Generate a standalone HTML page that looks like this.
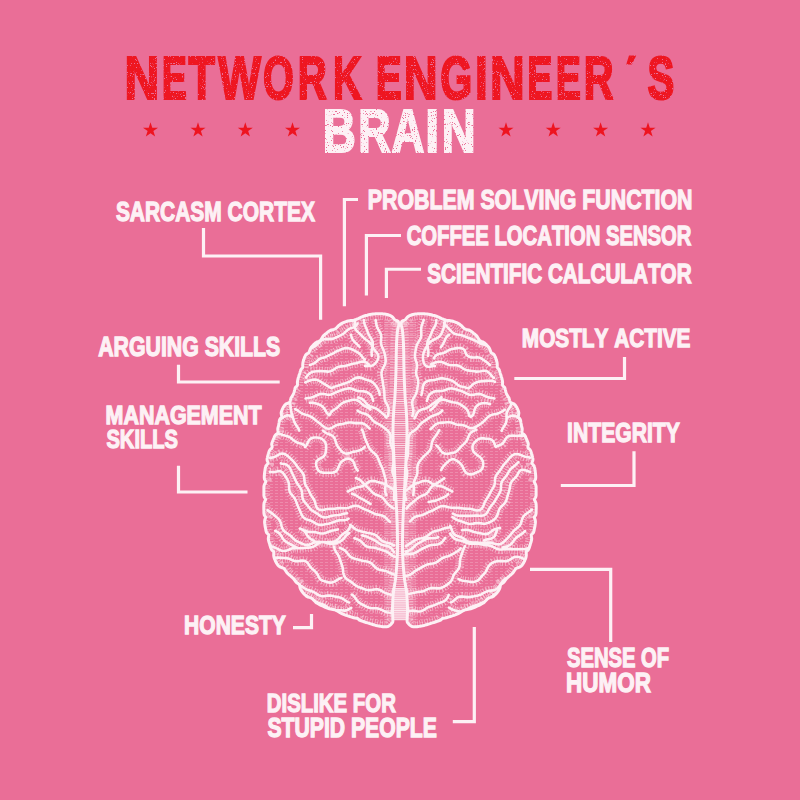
<!DOCTYPE html>
<html><head><meta charset="utf-8"><style>
html,body{margin:0;padding:0;background:#EA6E97;width:800px;height:800px;overflow:hidden}
svg{display:block}
text{font-family:"Liberation Sans",sans-serif;font-weight:bold;font-kerning:none;font-variant-ligatures:none}
.r{fill:#EE1420}
.rt{fill:#EE1420;stroke:#EE1420;stroke-linejoin:miter}
.wt{fill:#FDF1F5;stroke:#FDF1F5;stroke-linejoin:miter}
.w{fill:#FDF1F5}
.ln{fill:none;stroke:#FDF1F5;stroke-width:3.2;stroke-linecap:butt;stroke-linejoin:miter}
</style></head><body>
<svg width="800" height="800" viewBox="0 0 800 800">
<rect width="800" height="800" fill="#EA6E97"/>
<defs><filter id="dist" x="0" y="0" width="800" height="200" filterUnits="userSpaceOnUse"><feTurbulence type="fractalNoise" baseFrequency="0.9" numOctaves="2" seed="7" result="n"/><feColorMatrix in="n" type="matrix" values="0 0 0 0 0  0 0 0 0 0  0 0 0 0 0  0 0 0 -14 10.1" result="m"/><feComposite in="SourceGraphic" in2="m" operator="in"/></filter></defs>
<g filter="url(#dist)">
<text class="rt" transform="translate(124.39 98.80) scale(0.7806 1)" font-size="61.63" stroke-width="2.20">N</text>
<text class="rt" transform="translate(161.65 98.80) scale(0.6118 1)" font-size="61.63" stroke-width="2.20">E</text>
<text class="rt" transform="translate(188.54 98.80) scale(0.7015 1)" font-size="61.63" stroke-width="2.20">T</text>
<text class="rt" transform="translate(218.26 98.80) scale(0.7345 1)" font-size="61.63" stroke-width="2.20">W</text>
<text class="rt" transform="translate(263.08 98.80) scale(0.6441 1)" font-size="61.63" stroke-width="2.20">O</text>
<text class="rt" transform="translate(297.77 98.80) scale(0.6534 1)" font-size="61.63" stroke-width="2.20">R</text>
<text class="rt" transform="translate(333.06 98.80) scale(0.6427 1)" font-size="61.63" stroke-width="2.20">K</text>
<text class="rt" transform="translate(375.84 98.80) scale(0.6322 1)" font-size="61.63" stroke-width="2.20">E</text>
<text class="rt" transform="translate(403.70 98.80) scale(0.7611 1)" font-size="61.63" stroke-width="2.20">N</text>
<text class="rt" transform="translate(440.30 98.80) scale(0.6680 1)" font-size="61.63" stroke-width="2.20">G</text>
<text class="rt" transform="translate(475.00 98.80) scale(0.7448 1)" font-size="61.63" stroke-width="2.20">I</text>
<text class="rt" transform="translate(489.89 98.80) scale(0.7806 1)" font-size="61.63" stroke-width="2.20">N</text>
<text class="rt" transform="translate(527.15 98.80) scale(0.6118 1)" font-size="61.63" stroke-width="2.20">E</text>
<text class="rt" transform="translate(555.65 98.80) scale(0.6118 1)" font-size="61.63" stroke-width="2.20">E</text>
<text class="rt" transform="translate(583.72 98.80) scale(0.6716 1)" font-size="61.63" stroke-width="2.20">R</text>
<text class="rt" transform="translate(647.56 98.80) scale(0.6518 1)" font-size="61.63" stroke-width="2.20">S</text>
<polygon class="r" points="629,55.6 636.2,55.6 631.8,64.6 626.2,64.6"/>
<text class="wt" transform="translate(322.76 152.10) scale(0.7415 1)" font-size="61.63" stroke-width="2.20">B</text>
<text class="wt" transform="translate(358.31 152.10) scale(0.7260 1)" font-size="61.63" stroke-width="2.20">R</text>
<text class="wt" transform="translate(391.38 152.10) scale(0.7360 1)" font-size="61.63" stroke-width="2.20">A</text>
<text class="wt" transform="translate(425.24 152.10) scale(0.8125 1)" font-size="61.63" stroke-width="2.20">I</text>
<text class="wt" transform="translate(441.70 152.10) scale(0.7611 1)" font-size="61.63" stroke-width="2.20">N</text>
</g>
<g class="r"><polygon points="150.50,122.25 152.27,127.70 158.01,127.70 153.37,131.08 155.14,136.54 150.50,133.16 145.86,136.54 147.63,131.08 142.99,127.70 148.73,127.70"/>
<polygon points="198.00,122.25 199.77,127.70 205.51,127.70 200.87,131.08 202.64,136.54 198.00,133.16 193.36,136.54 195.13,131.08 190.49,127.70 196.23,127.70"/>
<polygon points="245.30,122.25 247.07,127.70 252.81,127.70 248.17,131.08 249.94,136.54 245.30,133.16 240.66,136.54 242.43,131.08 237.79,127.70 243.53,127.70"/>
<polygon points="292.50,122.25 294.27,127.70 300.01,127.70 295.37,131.08 297.14,136.54 292.50,133.16 287.86,136.54 289.63,131.08 284.99,127.70 290.73,127.70"/>
<polygon points="506.00,122.25 507.77,127.70 513.51,127.70 508.87,131.08 510.64,136.54 506.00,133.16 501.36,136.54 503.13,131.08 498.49,127.70 504.23,127.70"/>
<polygon points="553.20,122.25 554.97,127.70 560.71,127.70 556.07,131.08 557.84,136.54 553.20,133.16 548.56,136.54 550.33,131.08 545.69,127.70 551.43,127.70"/>
<polygon points="600.60,122.25 602.37,127.70 608.11,127.70 603.47,131.08 605.24,136.54 600.60,133.16 595.96,136.54 597.73,131.08 593.09,127.70 598.83,127.70"/>
<polygon points="648.00,122.25 649.77,127.70 655.51,127.70 650.87,131.08 652.64,136.54 648.00,133.16 643.36,136.54 645.13,131.08 640.49,127.70 646.23,127.70"/></g>
<text class="wt" transform="translate(115.88 220.60) scale(0.7450 1)" font-size="28.13" stroke-width="1.30">SARCASM CORTEX</text>
<text class="wt" transform="translate(367.81 208.60) scale(0.7551 1)" font-size="28.27" stroke-width="1.30">PROBLEM SOLVING FUNCTION</text>
<text class="wt" transform="translate(406.64 245.35) scale(0.7268 1)" font-size="27.91" stroke-width="1.30">COFFEE LOCATION SENSOR</text>
<text class="wt" transform="translate(427.14 282.85) scale(0.7518 1)" font-size="27.54" stroke-width="1.30">SCIENTIFIC CALCULATOR</text>
<text class="wt" transform="translate(98.22 355.85) scale(0.7728 1)" font-size="27.54" stroke-width="1.30">ARGUING SKILLS</text>
<text class="wt" transform="translate(105.59 424.10) scale(0.8109 1)" font-size="26.45" stroke-width="1.30">MANAGEMENT</text>
<text class="wt" transform="translate(106.41 447.85) scale(0.7615 1)" font-size="26.45" stroke-width="1.30">SKILLS</text>
<text class="wt" transform="translate(521.82 347.10) scale(0.7863 1)" font-size="26.45" stroke-width="1.30">MOSTLY ACTIVE</text>
<text class="wt" transform="translate(567.09 441.95) scale(0.7696 1)" font-size="27.47" stroke-width="1.30">INTEGRITY</text>
<text class="wt" transform="translate(184.11 634.35) scale(0.7997 1)" font-size="26.31" stroke-width="1.30">HONESTY</text>
<text class="wt" transform="translate(566.90 667.35) scale(0.7447 1)" font-size="27.18" stroke-width="1.30">SENSE OF</text>
<text class="wt" transform="translate(566.03 692.35) scale(0.8268 1)" font-size="27.18" stroke-width="1.30">HUMOR</text>
<text class="wt" transform="translate(266.74 712.35) scale(0.7710 1)" font-size="26.45" stroke-width="1.30">DISLIKE FOR</text>
<text class="wt" transform="translate(267.49 736.95) scale(0.7744 1)" font-size="27.33" stroke-width="1.30">STUPID PEOPLE</text>
<g class="ln">
<path d="M203.5 228V256H320.6V319.75"/>
<path d="M358 199.5H344.4V306.25"/>
<path d="M401 235.5H366.4V295.6"/>
<path d="M421 269.25H386.4V298"/>
<path d="M178.5 364.75V382H279.7"/>
<path d="M178.5 465.75V492H247.5"/>
<path d="M514.3 378.5H624.5V357"/>
<path d="M560.8 485.5H634V451.25"/>
<path d="M530 569.3H610.7V642"/>
<path d="M293 627.7H311.5V614"/>
<path d="M452.8 721.6H474.3V627"/>
</g>
<g id="brain">
<defs><pattern id="hp" width="5" height="3" patternUnits="userSpaceOnUse"><rect x="0" y="1" width="3" height="0.9" fill="#fff"/></pattern>
<pattern id="mp" width="4" height="2.2" patternUnits="userSpaceOnUse"><rect x="0" y="0.6" width="4" height="1.1" fill="#fff"/></pattern>
<clipPath id="bc"><path d="M398.9 323.5 L398.9 323.3 L398.8 323.0 L398.7 322.7 L398.6 322.3 L398.5 322.0 L398.3 321.7 L398.1 321.4 L397.8 321.1 L397.4 320.9 L397.0 320.7 L396.5 320.6 L396.0 320.4 L395.4 320.2 L394.9 319.8 L394.3 319.2 L393.7 318.5 L393.1 317.8 L392.5 317.1 L391.8 316.4 L391.0 315.9 L390.1 315.5 L389.1 315.1 L388.1 314.8 L387.0 314.5 L385.8 314.3 L384.7 314.1 L383.4 313.9 L382.2 313.8 L380.9 313.7 L379.7 313.7 L378.4 313.7 L377.1 313.8 L375.7 313.8 L374.3 314.0 L372.9 314.1 L371.5 314.3 L370.1 314.5 L368.7 314.8 L367.2 315.2 L365.8 315.5 L364.3 316.0 L362.8 316.5 L361.3 317.2 L359.8 317.9 L358.3 318.6 L356.8 319.2 L355.3 319.8 L353.8 320.2 L352.4 320.5 L351.0 320.6 L349.6 320.8 L348.2 321.0 L346.8 321.3 L345.4 321.8 L344.1 322.3 L342.8 322.9 L341.5 323.6 L340.2 324.4 L338.9 325.4 L337.7 326.6 L336.5 327.8 L335.3 328.8 L334.0 329.4 L332.7 329.7 L331.4 330.0 L330.2 330.5 L328.9 331.3 L327.7 332.2 L326.5 333.2 L325.2 334.2 L323.9 335.3 L322.7 336.8 L321.5 338.7 L320.3 340.6 L318.8 341.4 L317.2 341.9 L315.8 342.7 L314.5 343.8 L313.4 344.9 L312.4 346.0 L311.5 347.0 L310.7 348.1 L310.1 349.4 L309.6 350.8 L309.2 352.0 L308.6 352.9 L308.0 353.4 L307.3 353.7 L306.6 354.0 L306.0 354.6 L305.6 355.2 L305.2 356.0 L304.8 356.7 L304.5 357.4 L304.3 358.2 L304.0 358.9 L303.8 359.6 L303.5 360.4 L303.3 361.1 L303.1 361.9 L302.9 362.9 L302.8 364.0 L302.7 365.3 L302.8 366.7 L302.6 367.7 L302.2 368.3 L301.7 368.6 L301.3 369.0 L300.9 369.7 L300.6 370.4 L300.4 371.2 L300.1 372.0 L299.9 372.8 L299.7 373.5 L299.4 374.3 L299.2 375.1 L298.9 375.9 L298.7 376.7 L298.4 377.5 L298.2 378.3 L297.9 379.2 L297.7 380.2 L297.5 381.2 L297.4 382.6 L297.5 384.0 L297.4 385.3 L297.0 386.0 L296.4 386.5 L295.8 386.9 L295.4 387.4 L295.1 388.1 L294.9 388.8 L294.7 389.6 L294.5 390.3 L294.4 391.0 L294.2 391.7 L294.0 392.3 L293.8 393.0 L293.6 393.6 L293.3 394.2 L293.0 394.8 L292.7 395.4 L292.3 396.0 L292.0 396.6 L291.6 397.1 L291.2 397.7 L290.9 398.4 L290.7 399.1 L290.5 399.8 L290.3 400.6 L290.1 401.3 L289.8 401.9 L289.4 402.4 L288.8 402.8 L288.2 403.1 L287.5 403.3 L286.8 403.6 L286.2 403.9 L285.6 404.2 L285.1 404.7 L284.7 405.2 L284.3 405.8 L283.9 406.4 L283.5 407.0 L283.2 407.6 L282.8 408.3 L282.5 408.9 L282.2 409.6 L281.9 410.3 L281.6 411.0 L281.4 411.8 L281.2 412.6 L281.2 413.5 L281.4 414.6 L281.6 415.7 L281.8 416.7 L281.6 417.5 L281.0 418.0 L280.4 418.5 L279.9 419.1 L279.6 419.8 L279.4 420.5 L279.3 421.3 L279.2 422.0 L279.1 422.8 L278.9 423.6 L278.8 424.4 L278.7 425.2 L278.5 426.0 L278.3 426.8 L278.0 427.7 L277.8 428.6 L277.8 429.6 L277.9 430.7 L278.1 431.8 L278.0 432.8 L277.3 433.6 L276.4 434.2 L275.6 434.9 L275.0 435.7 L274.5 436.6 L274.1 437.6 L273.7 438.5 L273.3 439.5 L272.9 440.5 L272.5 441.5 L272.1 442.5 L271.8 443.5 L271.7 444.6 L272.0 445.8 L272.2 446.9 L271.9 447.9 L271.1 448.7 L270.1 449.6 L269.5 450.5 L269.1 451.4 L268.8 452.4 L268.5 453.4 L268.2 454.3 L268.0 455.3 L267.7 456.2 L267.5 457.1 L267.3 458.0 L267.1 458.8 L267.1 459.7 L267.2 460.6 L267.6 461.5 L268.0 462.4 L268.0 463.3 L267.4 464.2 L266.6 465.1 L265.9 466.0 L265.6 467.0 L265.3 467.9 L265.2 468.9 L265.0 469.9 L264.9 470.9 L264.7 471.9 L264.6 472.9 L264.5 473.9 L264.4 475.0 L264.3 476.0 L264.3 477.1 L264.3 478.1 L264.5 479.2 L265.1 480.2 L265.7 481.2 L265.7 482.3 L265.0 483.5 L264.4 484.7 L264.0 485.9 L263.9 487.0 L263.9 488.2 L263.9 489.3 L263.9 490.5 L263.9 491.7 L263.9 492.9 L263.9 494.1 L263.9 495.3 L264.1 496.5 L264.5 497.6 L265.3 498.6 L265.6 499.8 L264.8 501.3 L264.1 502.9 L263.9 504.3 L263.8 505.6 L263.8 506.9 L263.8 508.1 L263.8 509.3 L263.9 510.5 L263.9 511.6 L263.9 512.7 L264.0 513.8 L264.2 514.8 L264.6 515.6 L265.3 516.3 L265.7 517.2 L265.4 518.4 L264.8 519.9 L264.6 521.2 L264.6 522.4 L264.7 523.5 L264.9 524.7 L265.0 525.8 L265.2 526.9 L265.5 528.1 L265.7 529.2 L265.9 530.4 L266.2 531.6 L266.6 532.7 L267.4 533.5 L268.4 534.3 L268.8 535.4 L268.5 537.1 L268.3 538.8 L268.5 540.2 L268.8 541.5 L269.2 542.7 L269.6 543.9 L269.9 545.2 L270.3 546.4 L270.7 547.7 L271.2 548.9 L271.8 550.0 L272.7 550.7 L273.6 551.4 L273.8 552.7 L273.7 554.2 L273.7 555.6 L273.9 556.7 L274.1 557.6 L274.4 558.3 L274.6 559.1 L274.9 559.7 L275.2 560.4 L275.4 561.0 L275.7 561.6 L276.0 562.2 L276.4 562.8 L276.8 563.4 L277.1 564.0 L277.5 564.5 L277.9 565.1 L278.4 565.6 L278.8 566.1 L279.4 566.5 L280.0 566.9 L280.6 567.2 L281.4 567.5 L282.2 567.7 L283.0 568.0 L283.8 568.4 L284.4 569.0 L285.0 569.7 L285.5 570.6 L286.1 571.4 L286.6 572.2 L287.2 572.9 L287.8 573.6 L288.4 574.2 L289.0 574.7 L289.7 575.2 L290.3 575.7 L290.9 576.3 L291.5 576.8 L292.1 577.3 L292.7 577.9 L293.3 578.5 L293.9 579.1 L294.4 579.8 L295.0 580.6 L295.5 581.4 L296.1 582.1 L296.7 582.8 L297.4 583.2 L298.1 583.6 L298.8 584.0 L299.3 584.8 L299.7 585.8 L299.9 587.0 L300.2 588.1 L300.6 589.1 L301.0 589.9 L301.4 590.6 L301.9 591.3 L302.4 592.0 L303.0 592.7 L303.6 593.4 L304.2 594.1 L304.9 594.8 L305.7 595.4 L306.4 596.1 L307.3 596.6 L308.2 597.1 L309.2 597.4 L310.2 597.6 L311.3 598.0 L312.3 598.7 L313.3 599.7 L314.3 600.8 L315.5 602.0 L316.7 603.0 L318.1 603.8 L319.6 604.6 L321.0 605.3 L322.5 606.0 L324.0 606.7 L325.4 607.4 L326.7 607.9 L328.0 608.4 L329.3 608.8 L330.6 609.1 L331.8 609.3 L333.1 609.5 L334.3 609.7 L335.5 610.1 L336.6 610.6 L337.8 611.2 L339.0 612.0 L340.1 612.7 L341.3 613.3 L342.4 613.9 L343.6 614.4 L344.8 614.9 L346.0 615.3 L347.2 615.7 L348.4 616.1 L349.7 616.5 L350.9 616.9 L352.3 617.3 L353.6 617.7 L355.0 618.0 L356.4 618.2 L357.7 618.4 L359.2 620.0 L360.6 620.5 L362.0 621.1 L363.4 621.5 L364.8 622.0 L366.2 622.5 L367.7 622.9 L369.1 623.4 L370.6 623.9 L372.1 624.3 L373.5 624.7 L374.9 625.1 L376.2 625.5 L377.5 625.8 L378.7 626.0 L379.8 626.2 L380.8 626.4 L381.8 626.6 L382.8 626.7 L383.7 626.8 L384.6 626.8 L385.4 626.8 L386.2 626.8 L386.9 626.7 L387.6 626.6 L388.3 626.3 L388.9 626.0 L389.5 625.6 L390.1 625.1 L390.6 624.6 L391.1 624.1 L391.6 623.6 L391.9 623.2 L392.3 622.8 L392.6 622.6 L392.9 620.9 L392.8 618.8 L392.7 616.2 L392.6 613.5 L392.5 610.7 L392.5 608.0 L392.6 605.4 L392.7 602.8 L392.8 600.2 L393.0 597.5 L393.2 594.7 L393.5 592.0 L393.8 589.3 L394.3 586.7 L394.7 584.1 L395.2 581.3 L395.6 578.3 L396.0 575.0 L396.3 571.4 L396.6 567.4 L396.9 563.3 L397.2 559.0 L397.4 554.5 L397.5 550.0 L397.5 545.3 L397.5 540.4 L397.4 535.3 L397.3 530.2 L397.2 525.1 L397.0 520.0 L396.8 515.0 L396.6 510.0 L396.3 505.0 L396.0 500.0 L395.8 495.0 L395.5 490.0 L395.2 484.9 L395.0 479.8 L394.7 474.7 L394.5 469.6 L394.2 464.7 L394.0 460.0 L393.8 455.5 L393.6 451.1 L393.4 446.9 L393.2 442.8 L393.1 438.8 L393.0 435.0 L393.0 431.4 L393.0 428.0 L393.1 424.7 L393.2 421.5 L393.3 418.3 L393.5 415.0 L393.7 411.7 L393.9 408.5 L394.2 405.3 L394.5 402.0 L394.8 398.6 L395.0 395.0 L395.2 391.1 L395.4 387.0 L395.6 382.8 L395.7 378.5 L395.9 374.2 L396.0 370.0 L396.1 365.7 L396.2 361.3 L396.2 356.8 L396.3 352.5 L396.4 348.5 L396.5 345.0 L396.6 342.0 L396.8 339.3 L396.9 337.0 L397.1 334.9 L397.3 332.9 L397.5 331.0 L397.8 329.2 L398.2 327.4 L398.6 325.9 L398.9 324.5 L399.3 323.4Z"/><path d="M401.1 323.5 L401.1 323.3 L401.2 323.0 L401.3 322.7 L401.4 322.3 L401.5 322.0 L401.7 321.7 L401.9 321.4 L402.2 321.1 L402.6 320.9 L403.0 320.7 L403.5 320.6 L404.0 320.4 L404.6 320.2 L405.1 319.8 L405.7 319.2 L406.3 318.5 L406.9 317.8 L407.5 317.1 L408.2 316.4 L409.0 315.9 L409.9 315.5 L410.9 315.1 L411.9 314.8 L413.0 314.5 L414.2 314.3 L415.3 314.1 L416.6 313.9 L417.8 313.8 L419.1 313.7 L420.3 313.7 L421.6 313.7 L422.9 313.8 L424.3 313.8 L425.7 314.0 L427.1 314.1 L428.5 314.3 L429.9 314.5 L431.3 314.8 L432.8 315.2 L434.2 315.5 L435.7 316.0 L437.2 316.5 L438.7 317.2 L440.2 317.9 L441.7 318.6 L443.2 319.2 L444.7 319.8 L446.2 320.2 L447.6 320.5 L449.0 320.6 L450.4 320.8 L451.8 321.0 L453.2 321.3 L454.6 321.8 L455.9 322.3 L457.2 322.9 L458.5 323.6 L459.8 324.4 L461.1 325.4 L462.3 326.6 L463.5 327.8 L464.7 328.8 L466.0 329.4 L467.3 329.7 L468.6 330.0 L469.8 330.5 L471.1 331.3 L472.3 332.2 L473.5 333.2 L474.8 334.2 L476.1 335.3 L477.3 336.8 L478.5 338.7 L479.7 340.6 L481.2 341.4 L482.8 341.9 L484.2 342.7 L485.5 343.8 L486.6 344.9 L487.6 346.0 L488.5 347.0 L489.3 348.1 L489.9 349.4 L490.4 350.8 L490.8 352.0 L491.4 352.9 L492.0 353.4 L492.7 353.7 L493.4 354.0 L494.0 354.6 L494.4 355.2 L494.8 356.0 L495.2 356.7 L495.5 357.4 L495.7 358.2 L496.0 358.9 L496.2 359.6 L496.5 360.4 L496.7 361.1 L496.9 361.9 L497.1 362.9 L497.2 364.0 L497.3 365.3 L497.2 366.7 L497.4 367.7 L497.8 368.3 L498.3 368.6 L498.7 369.0 L499.1 369.7 L499.4 370.4 L499.6 371.2 L499.9 372.0 L500.1 372.8 L500.3 373.5 L500.6 374.3 L500.8 375.1 L501.1 375.9 L501.3 376.7 L501.6 377.5 L501.8 378.3 L502.1 379.2 L502.3 380.2 L502.5 381.2 L502.6 382.6 L502.5 384.0 L502.6 385.3 L503.0 386.0 L503.6 386.5 L504.2 386.9 L504.6 387.4 L504.9 388.1 L505.1 388.8 L505.3 389.6 L505.5 390.3 L505.6 391.0 L505.8 391.7 L506.0 392.3 L506.2 393.0 L506.4 393.6 L506.7 394.2 L507.0 394.8 L507.3 395.4 L507.7 396.0 L508.0 396.6 L508.4 397.1 L508.8 397.7 L509.1 398.4 L509.3 399.1 L509.5 399.8 L509.7 400.6 L509.9 401.3 L510.2 401.9 L510.6 402.4 L511.2 402.8 L511.8 403.1 L512.5 403.3 L513.2 403.6 L513.8 403.9 L514.4 404.2 L514.9 404.7 L515.3 405.2 L515.7 405.8 L516.1 406.4 L516.5 407.0 L516.8 407.6 L517.2 408.3 L517.5 408.9 L517.8 409.6 L518.1 410.3 L518.4 411.0 L518.6 411.8 L518.8 412.6 L518.8 413.5 L518.6 414.6 L518.4 415.7 L518.2 416.7 L518.4 417.5 L519.0 418.0 L519.6 418.5 L520.1 419.1 L520.4 419.8 L520.6 420.5 L520.7 421.3 L520.8 422.0 L520.9 422.8 L521.1 423.6 L521.2 424.4 L521.3 425.2 L521.5 426.0 L521.7 426.8 L522.0 427.7 L522.2 428.6 L522.2 429.6 L522.1 430.7 L521.9 431.8 L522.0 432.8 L522.7 433.6 L523.6 434.2 L524.4 434.9 L525.0 435.7 L525.5 436.6 L525.9 437.6 L526.3 438.5 L526.7 439.5 L527.1 440.5 L527.5 441.5 L527.9 442.5 L528.2 443.5 L528.3 444.6 L528.0 445.8 L527.8 446.9 L528.1 447.9 L528.9 448.7 L529.9 449.6 L530.5 450.5 L530.9 451.4 L531.2 452.4 L531.5 453.4 L531.8 454.3 L532.0 455.3 L532.3 456.2 L532.5 457.1 L532.7 458.0 L532.9 458.8 L532.9 459.7 L532.8 460.6 L532.4 461.5 L532.0 462.4 L532.0 463.3 L532.6 464.2 L533.4 465.1 L534.1 466.0 L534.4 467.0 L534.7 467.9 L534.8 468.9 L535.0 469.9 L535.1 470.9 L535.3 471.9 L535.4 472.9 L535.5 473.9 L535.6 475.0 L535.7 476.0 L535.7 477.1 L535.7 478.1 L535.5 479.2 L534.9 480.2 L534.3 481.2 L534.3 482.3 L535.0 483.5 L535.6 484.7 L536.0 485.9 L536.1 487.0 L536.1 488.2 L536.1 489.3 L536.1 490.5 L536.1 491.7 L536.1 492.9 L536.1 494.1 L536.1 495.3 L535.9 496.5 L535.5 497.6 L534.7 498.6 L534.4 499.8 L535.2 501.3 L535.9 502.9 L536.1 504.3 L536.2 505.6 L536.2 506.9 L536.2 508.1 L536.2 509.3 L536.1 510.5 L536.1 511.6 L536.1 512.7 L536.0 513.8 L535.8 514.8 L535.4 515.6 L534.7 516.3 L534.3 517.2 L534.6 518.4 L535.2 519.9 L535.4 521.2 L535.4 522.4 L535.3 523.5 L535.1 524.7 L535.0 525.8 L534.8 526.9 L534.5 528.1 L534.3 529.2 L534.1 530.4 L533.8 531.6 L533.4 532.7 L532.6 533.5 L531.6 534.3 L531.2 535.4 L531.5 537.1 L531.7 538.8 L531.5 540.2 L531.2 541.5 L530.8 542.7 L530.4 543.9 L530.1 545.2 L529.7 546.4 L529.3 547.7 L528.8 548.9 L528.2 550.0 L527.3 550.7 L526.4 551.4 L526.2 552.7 L526.3 554.2 L526.3 555.6 L526.1 556.7 L525.9 557.6 L525.6 558.3 L525.4 559.1 L525.1 559.7 L524.8 560.4 L524.6 561.0 L524.3 561.6 L524.0 562.2 L523.6 562.8 L523.2 563.4 L522.9 564.0 L522.5 564.5 L522.1 565.1 L521.6 565.6 L521.2 566.1 L520.6 566.5 L520.0 566.9 L519.4 567.2 L518.6 567.5 L517.8 567.7 L517.0 568.0 L516.2 568.4 L515.6 569.0 L515.0 569.7 L514.5 570.6 L513.9 571.4 L513.4 572.2 L512.8 572.9 L512.2 573.6 L511.6 574.2 L511.0 574.7 L510.3 575.2 L509.7 575.7 L509.1 576.3 L508.5 576.8 L507.9 577.3 L507.3 577.9 L506.7 578.5 L506.1 579.1 L505.6 579.8 L505.0 580.6 L504.5 581.4 L503.9 582.1 L503.3 582.8 L502.6 583.2 L501.9 583.6 L501.2 584.0 L500.7 584.8 L500.3 585.8 L500.1 587.0 L499.8 588.1 L499.4 589.1 L499.0 589.9 L498.6 590.6 L498.1 591.3 L497.6 592.0 L497.0 592.7 L496.4 593.4 L495.8 594.1 L495.1 594.8 L494.3 595.4 L493.6 596.1 L492.7 596.6 L491.8 597.1 L490.8 597.4 L489.8 597.6 L488.7 598.0 L487.7 598.7 L486.7 599.7 L485.7 600.8 L484.5 602.0 L483.3 603.0 L481.9 603.8 L480.4 604.6 L479.0 605.3 L477.5 606.0 L476.0 606.7 L474.6 607.4 L473.3 607.9 L472.0 608.4 L470.7 608.8 L469.4 609.1 L468.2 609.3 L466.9 609.5 L465.7 609.7 L464.5 610.1 L463.4 610.6 L462.2 611.2 L461.0 612.0 L459.9 612.7 L458.7 613.3 L457.6 613.9 L456.4 614.4 L455.2 614.9 L454.0 615.3 L452.8 615.7 L451.6 616.1 L450.3 616.5 L449.1 616.9 L447.7 617.3 L446.4 617.7 L445.0 618.0 L443.6 618.2 L442.3 618.4 L440.8 620.0 L439.4 620.5 L438.0 621.1 L436.6 621.5 L435.2 622.0 L433.8 622.5 L432.3 622.9 L430.9 623.4 L429.4 623.9 L427.9 624.3 L426.5 624.7 L425.1 625.1 L423.8 625.5 L422.5 625.8 L421.3 626.0 L420.2 626.2 L419.2 626.4 L418.2 626.6 L417.2 626.7 L416.3 626.8 L415.4 626.8 L414.6 626.8 L413.8 626.8 L413.1 626.7 L412.4 626.6 L411.7 626.3 L411.1 626.0 L410.5 625.6 L409.9 625.1 L409.4 624.6 L408.9 624.1 L408.4 623.6 L408.1 623.2 L407.7 622.8 L407.4 622.6 L407.1 620.9 L407.2 618.8 L407.3 616.2 L407.4 613.5 L407.5 610.7 L407.5 608.0 L407.4 605.4 L407.3 602.8 L407.2 600.2 L407.0 597.5 L406.8 594.7 L406.5 592.0 L406.2 589.3 L405.7 586.7 L405.3 584.1 L404.8 581.3 L404.4 578.3 L404.0 575.0 L403.7 571.4 L403.4 567.4 L403.1 563.3 L402.8 559.0 L402.6 554.5 L402.5 550.0 L402.5 545.3 L402.5 540.4 L402.6 535.3 L402.7 530.2 L402.8 525.1 L403.0 520.0 L403.2 515.0 L403.4 510.0 L403.7 505.0 L404.0 500.0 L404.2 495.0 L404.5 490.0 L404.8 484.9 L405.0 479.8 L405.3 474.7 L405.5 469.6 L405.8 464.7 L406.0 460.0 L406.2 455.5 L406.4 451.1 L406.6 446.9 L406.8 442.8 L406.9 438.8 L407.0 435.0 L407.0 431.4 L407.0 428.0 L406.9 424.7 L406.8 421.5 L406.7 418.3 L406.5 415.0 L406.3 411.7 L406.1 408.5 L405.8 405.3 L405.5 402.0 L405.2 398.6 L405.0 395.0 L404.8 391.1 L404.6 387.0 L404.4 382.8 L404.3 378.5 L404.1 374.2 L404.0 370.0 L403.9 365.7 L403.8 361.3 L403.8 356.8 L403.7 352.5 L403.6 348.5 L403.5 345.0 L403.4 342.0 L403.2 339.3 L403.1 337.0 L402.9 334.9 L402.7 332.9 L402.5 331.0 L402.2 329.2 L401.8 327.4 L401.4 325.9 L401.1 324.5 L400.7 323.4Z"/></clipPath></defs>
<g clip-path="url(#bc)"><rect x="250" y="300" width="300" height="340" fill="url(#hp)" opacity="0.22"/></g>
<path d="M397.0 326.0 L403.0 326.0 L404.0 370.0 L405.0 395.0 L406.5 415.0 L407.0 435.0 L406.0 460.0 L404.5 490.0 L403.0 520.0 L402.5 550.0 L404.0 575.0 L406.5 592.0 L407.5 621.0 L392.5 621.0 L393.5 592.0 L396.0 575.0 L397.5 550.0 L397.0 520.0 L395.5 490.0 L394.0 460.0 L393.0 435.0 L393.5 415.0 L395.0 395.0 L396.0 370.0Z" fill="url(#mp)" opacity="0.75"/>
<g clip-path="url(#bc)"><rect x="384" y="320" width="32" height="300" fill="url(#mp)" opacity="0.3"/></g>
<path d="M392 588 L408 588 L407.5 620 L392.5 620Z" fill="#FDF1F5" opacity="0.55"/>
<g clip-path="url(#bc)" fill="none" stroke="#FDF1F5"><path d="M355.1 318.8 L355.1 320.3 L354.8 322.5 L354.5 325.2 L354.9 327.8 L356.2 330.2 L358.1 332.1 L360.1 334.0 L362.0 336.0 L363.9 337.9 L365.8 339.5 L367.5 340.8 L369.1 342.0 L370.6 343.5 L371.8 345.2 L372.7 346.9 L373.6 348.7 L375.0 350.6 L376.7 352.5 L378.0 354.5 L378.5 356.6 L378.2 358.7 L377.3 360.6 L376.2 362.3 L374.9 363.7 L373.6 364.9 L372.0 365.7 L370.1 366.0 L368.1 365.9 L366.4 365.8 L365.1 365.9 M445.2 318.8 L445.0 320.3 L444.8 322.4 L444.4 324.9 L443.8 327.4 L443.0 329.8 L442.1 332.2 L440.9 334.7 L439.0 336.9 L436.6 338.4 L434.2 339.5 L432.3 340.5 L430.6 341.6 L429.1 343.1 L427.8 344.7 L426.7 346.4 L425.7 348.3 L424.6 350.4 L423.7 352.6 L423.2 354.7 L423.0 356.6 L423.0 358.4 L423.2 360.3 L423.7 362.4 L424.5 364.3 L425.7 365.8 L427.6 366.7 L429.8 366.7 L431.8 366.3 L433.6 366.0 L434.9 366.0 M270.1 457.9 L271.6 457.7 L273.6 457.3 L275.7 456.4 L277.8 455.2 L279.7 454.1 L281.9 453.6 L284.0 453.8 L286.1 454.7 L287.9 456.1 L289.5 457.6 L291.1 459.1 L292.7 460.7 L294.3 462.5 L295.7 464.3 L297.0 466.2 L298.3 467.9 L299.7 469.5 L301.2 471.2 L302.6 473.0 L303.7 475.0 L304.2 477.4 L304.4 480.0 L304.7 482.6 L305.5 485.0 L306.8 487.2 L308.1 489.3 L309.2 491.5 L310.3 493.8 L311.5 495.9 L312.9 497.9 L314.2 500.0 L315.1 502.3 L315.7 504.8 L316.5 507.2 L318.1 509.1 L320.3 510.0 L322.9 510.0 L325.3 509.4 L327.8 509.0 L330.1 508.9 L332.4 508.9 L334.7 508.7 L337.0 508.4 L339.3 508.1 L341.5 508.1 L343.7 508.3 L345.7 508.3 L347.6 508.0 L349.4 507.4 L351.3 506.7 L353.2 506.0 L355.3 505.7 L357.3 505.9 L359.3 506.6 L361.1 507.6 L362.9 508.5 L364.8 509.4 L366.7 510.1 L368.6 510.9 L370.5 511.8 L372.4 512.7 L374.3 513.7 L376.4 514.4 L378.7 514.8 L380.9 515.2 L383.2 515.9 L385.3 517.4 L387.1 519.2 L388.7 520.8 L389.9 521.8 M530.0 457.7 L528.6 457.3 L526.5 456.9 L524.3 456.4 L522.2 455.6 L520.2 454.8 L518.2 454.2 L516.0 454.0 L513.8 454.5 L511.9 455.7 L510.3 457.2 L508.8 459.0 L507.3 460.8 L505.8 462.5 L504.2 464.3 L502.8 466.1 L501.7 467.9 L500.6 469.6 L499.3 471.4 L497.8 473.2 L496.4 475.0 L495.4 477.2 L495.0 479.7 L494.9 482.4 L494.5 485.0 L493.5 487.3 L492.2 489.4 L490.8 491.6 L489.7 493.8 L488.6 496.0 L487.3 498.0 L486.0 500.1 L484.7 502.2 L483.9 504.5 L483.0 506.7 L481.7 508.8 L479.7 510.1 L477.2 510.5 L474.7 510.0 L472.2 509.2 L469.9 508.8 L467.7 508.7 L465.3 508.6 L463.0 508.5 L460.7 508.1 L458.5 507.9 L456.4 507.9 L454.3 507.9 L452.4 507.8 L450.6 507.6 L448.7 507.2 L446.8 506.7 L444.8 506.2 L442.7 506.0 L440.7 506.3 L438.8 507.1 L436.9 508.2 L435.1 509.2 L433.3 510.2 L431.4 511.0 L429.4 511.7 L427.5 512.6 L425.6 513.6 L423.6 514.5 L421.6 515.2 L419.3 515.7 L416.9 516.2 L414.6 517.1 L412.6 518.7 L411.1 520.3 L410.0 521.4 M269.9 471.9 L271.4 472.0 L273.6 472.1 L275.8 471.8 L277.9 471.2 L279.6 471.1 L281.2 471.6 L282.8 472.8 L284.2 474.5 L285.5 476.5 L286.8 478.5 L288.0 480.8 L288.9 483.5 L289.1 486.5 L289.2 489.5 L289.9 492.2 L291.4 494.4 L293.1 496.3 L294.6 498.3 L295.7 500.4 L296.6 502.7 L297.5 505.2 L298.6 507.8 L299.8 510.3 L300.8 512.8 L301.8 515.0 L302.9 516.8 L304.3 518.2 L305.9 519.1 L307.7 519.8 L309.5 520.2 L311.3 520.8 L312.9 521.7 L314.7 522.8 L316.5 523.9 L318.7 524.7 L321.2 524.9 L323.9 524.5 L326.7 524.0 L329.4 523.5 L331.8 522.8 L333.9 522.0 L335.9 521.2 L337.8 520.6 L339.6 520.3 L341.3 520.2 L343.0 520.2 L344.8 520.1 L346.5 519.7 L347.7 519.2 L348.6 518.7 M530.1 471.8 L528.8 471.4 L526.8 470.7 L524.5 470.0 L522.2 469.8 L520.2 470.4 L518.9 471.8 L518.0 473.5 L517.1 475.4 L515.8 477.2 L514.0 478.9 L512.1 480.8 L510.7 483.3 L510.0 486.2 L509.6 489.1 L508.9 491.7 L508.1 494.2 L507.4 496.5 L506.8 498.9 L506.0 501.2 L504.6 503.3 L502.7 505.3 L500.6 507.3 L499.1 509.6 L498.3 512.2 L497.6 514.6 L496.7 516.5 L495.6 518.1 L494.3 519.4 L492.9 520.4 L491.2 521.4 L489.5 522.3 L487.6 523.1 L485.6 523.6 L483.4 523.7 L481.2 523.4 L478.9 523.1 L476.2 523.1 L473.3 523.6 L470.5 524.0 L468.1 523.8 L465.9 523.1 L463.9 522.3 L462.0 521.6 L460.3 521.1 L458.6 520.6 L457.1 520.0 L455.6 519.2 L454.3 518.4 L453.2 517.6 L452.4 517.1 M267.5 510.2 L268.8 511.1 L270.7 512.4 L272.8 514.0 L274.9 515.8 L276.9 517.4 L278.7 519.1 L280.1 521.1 L281.0 523.4 L281.5 525.8 L282.2 528.1 L283.2 530.0 L284.7 531.6 L286.4 532.8 L288.2 534.0 L289.9 535.2 L291.5 536.6 L292.9 538.1 L294.4 539.5 L296.0 540.8 L297.8 541.7 L299.7 542.6 L301.7 543.5 L304.0 544.4 L306.4 544.9 L309.0 544.7 L311.8 543.6 L314.6 542.4 L317.7 541.8 L320.8 542.0 L323.6 542.2 L326.1 542.2 L328.5 542.1 L330.8 542.0 L333.0 541.8 L335.3 541.2 L337.3 539.9 L339.1 538.1 L340.7 536.1 L342.3 534.5 L344.0 533.3 L345.9 532.2 L347.7 530.7 L349.0 529.0 L349.9 527.4 L350.3 526.3 M532.0 509.6 L530.8 510.6 L528.9 512.0 L526.7 513.5 L524.5 515.2 L522.9 517.3 L522.0 519.6 L521.4 522.0 L520.6 524.3 L519.2 526.2 L517.4 527.8 L515.6 529.2 L514.0 530.6 L512.7 532.1 L511.4 533.7 L510.1 535.3 L508.7 536.8 L507.3 538.3 L505.8 539.8 L504.4 541.3 L502.7 542.8 L500.7 543.9 L498.4 544.4 L496.0 544.1 L493.5 543.4 L491.0 542.7 L488.3 542.5 L485.3 542.9 L482.1 543.1 L479.1 542.9 L476.3 542.6 L473.8 542.5 L471.5 542.4 L469.2 542.0 L467.1 541.1 L465.2 539.8 L463.4 538.4 L461.4 537.3 L459.0 536.6 L456.6 535.8 L454.6 534.6 L453.1 532.9 L452.1 530.8 L451.4 528.8 L450.8 527.1 L450.3 525.9 M305.0 447.0 L305.9 446.1 L306.9 444.6 L307.8 442.6 L308.8 440.6 L310.2 439.0 L312.0 438.0 L314.2 437.5 L316.5 437.5 L318.6 437.7 L320.4 438.2 L322.0 439.0 L323.5 440.2 L324.8 441.7 L325.6 443.3 L326.0 444.8 L326.1 446.3 L326.1 448.2 L325.9 450.6 L325.6 453.0 L324.7 455.1 L323.2 456.8 L321.1 458.0 L319.0 459.1 L317.3 460.5 L316.3 462.2 L316.1 464.1 L316.4 466.0 L316.9 467.8 L317.6 469.4 L318.6 470.7 L319.9 471.7 L321.6 472.4 L323.5 472.7 L325.3 472.8 L326.9 472.8 L328.4 472.8 L330.1 472.8 L331.9 472.7 L333.9 472.4 L335.8 471.5 L337.3 470.0 L338.3 467.9 L339.1 465.7 L340.0 463.7 L341.2 462.1 L342.5 461.0 L343.8 460.1 L345.2 459.4 L346.6 458.9 L348.0 458.6 L349.5 458.8 L350.9 459.4 L352.3 460.3 L353.3 461.5 L354.0 462.9 L354.5 464.4 L355.0 466.2 L355.9 468.0 L356.9 469.6 L357.8 470.6 M495.5 446.6 L495.0 445.3 L494.4 443.5 L493.4 441.5 L491.8 439.9 L489.8 439.0 L487.7 438.7 L485.5 438.6 L483.4 438.4 L481.4 438.4 L479.7 438.6 L478.2 439.3 L476.7 440.4 L475.3 441.7 L474.0 443.1 L473.1 444.6 L472.5 446.4 L472.5 448.7 L473.2 450.9 L474.6 452.9 L476.3 454.4 L478.1 455.7 L479.9 457.0 L481.4 458.7 L482.6 460.6 L483.1 462.4 L483.2 464.2 L483.0 466.0 L482.6 467.6 L481.8 469.1 L480.9 470.3 L479.6 471.1 L478.1 471.8 L476.4 472.5 L474.8 473.3 L473.1 474.0 L471.3 474.4 L469.4 474.4 L467.5 473.7 L465.9 472.6 L464.7 471.0 L463.7 469.1 L462.8 467.1 L461.7 465.2 L460.3 463.5 L458.8 462.1 L457.4 461.1 L456.1 460.3 L454.7 459.6 L453.3 459.3 L452.0 459.3 L450.7 459.7 L449.5 460.4 L448.4 461.4 L447.3 462.3 L446.3 463.2 L445.2 464.3 L443.8 465.8 L442.5 467.5 L441.6 469.1 L441.1 470.2 M361.9 429.5 L362.9 431.3 L363.7 434.0 L364.6 437.3 L365.8 440.4 L367.1 443.2 L368.2 445.8 L369.4 448.2 L371.0 450.4 L373.0 452.2 L374.9 453.8 L376.4 455.4 L377.5 457.2 L378.3 459.1 L379.1 461.1 L379.8 462.9 L380.6 464.7 L381.4 466.4 L382.3 468.2 L383.0 470.1 L383.6 472.3 L384.3 474.7 L385.0 477.3 L385.8 480.0 L386.0 482.7 L385.7 485.2 L385.2 487.6 L385.0 490.0 L385.3 492.2 L385.9 493.9 L386.5 495.1 M439.3 430.1 L438.3 431.9 L436.9 434.3 L434.9 437.0 L432.9 439.8 L431.9 442.7 L431.4 445.6 L430.9 448.4 L429.6 450.7 L427.8 452.7 L426.0 454.4 L424.3 455.9 L422.8 457.4 L421.5 459.0 L420.2 460.5 L419.0 462.2 L418.1 464.1 L417.5 466.0 L417.3 468.0 L417.4 470.2 L417.4 472.5 L417.0 474.9 L415.9 477.4 L414.6 480.1 L413.8 482.7 L413.7 485.1 L413.8 487.5 L413.8 489.8 L413.6 492.0 L413.4 493.8 L413.3 495.1 M350.1 524.8 L351.5 525.8 L353.4 527.5 L355.7 529.4 L358.3 530.6 L360.8 531.3 L362.9 531.8 L364.8 532.2 L366.7 532.7 L368.6 533.1 L370.9 533.6 L373.6 534.2 L376.3 535.5 L378.7 537.7 L380.9 540.0 L383.2 541.6 L385.8 542.4 L388.5 543.0 L391.0 543.8 L392.9 544.8 L394.3 545.5 M450.8 526.9 L449.2 527.4 L446.7 527.8 L443.9 528.5 L441.2 529.5 L438.8 530.3 L436.8 530.8 L434.9 531.3 L433.1 531.8 L431.2 532.8 L429.4 534.3 L427.3 536.1 L424.7 537.5 L421.6 538.2 L418.5 538.7 L415.8 539.7 L413.5 541.1 L411.3 542.7 L409.1 544.1 L407.3 545.2 L406.1 546.1 M268.6 440.7 L269.9 439.8 L271.4 438.2 L273.2 436.1 L275.4 434.4 L277.9 433.8 L280.3 434.1 L282.7 434.9 L285.0 435.6 L287.3 436.2 L289.3 437.0 L291.0 438.0 L292.6 439.4 L294.3 440.8 L296.0 442.0 L297.8 442.7 L299.5 443.2 L301.2 443.6 L302.6 444.2 L303.7 444.9 L304.5 445.5 M532.4 439.1 L530.9 438.6 L528.9 437.6 L526.6 436.5 L524.1 435.7 L521.8 435.4 L519.6 435.6 L517.4 435.9 L515.0 435.8 L512.5 435.6 L510.1 435.7 L507.9 436.5 L506.2 438.1 L505.0 440.0 L503.9 441.9 L502.7 443.4 L501.2 444.5 L499.6 445.2 L498.2 445.8 L497.0 446.3 L496.1 446.7 M323.1 430.7 L324.1 431.7 L325.7 432.8 L327.8 433.8 L330.3 434.7 L332.5 435.8 L334.2 437.6 L335.2 439.9 L335.9 442.3 L336.7 444.6 L337.8 446.6 L339.1 448.2 L340.3 449.7 L341.5 451.2 L342.9 452.4 L344.5 453.3 L346.4 453.6 L348.4 453.4 L350.4 452.8 L352.3 452.1 L354.1 451.6 L356.3 451.2 L359.0 450.5 L361.6 449.5 L363.5 448.1 L364.7 446.9 M476.2 429.8 L474.9 430.3 L473.1 431.2 L471.1 432.5 L469.5 434.4 L468.4 436.7 L467.6 438.9 L466.6 441.0 L465.0 442.9 L463.2 444.6 L461.5 446.1 L460.1 447.6 L458.9 449.1 L457.7 450.4 L456.4 451.5 L455.0 452.2 L453.4 452.7 L451.6 453.1 L449.6 453.5 L447.4 453.9 L445.1 453.8 L442.8 452.8 L440.8 450.8 L439.2 448.4 L437.7 446.5 L436.4 445.4 M280.8 463.4 L282.3 463.7 L284.5 464.0 L286.8 464.9 L288.9 466.6 L290.3 468.7 L291.2 471.0 L292.2 473.2 L293.3 475.5 L294.4 477.9 L295.5 480.2 L296.6 482.5 L298.1 484.8 L299.7 486.9 L301.2 489.2 L301.9 491.6 L302.2 494.2 L302.3 496.8 L302.9 499.2 L304.0 501.4 L305.6 503.2 L307.2 505.0 L308.6 506.9 L310.1 508.7 L311.7 510.2 L313.4 511.4 L315.2 512.4 L316.9 513.5 L318.7 514.7 L320.6 516.1 L322.8 517.1 L325.3 517.5 L328.1 517.0 L330.8 516.1 L333.4 515.5 L335.9 515.2 L338.4 515.0 L341.0 514.6 L343.4 513.9 L345.5 513.5 L347.1 513.3 M518.5 462.1 L517.4 463.2 L515.9 464.7 L514.0 466.2 L512.1 467.8 L510.4 469.3 L509.1 471.2 L507.9 473.3 L506.6 475.5 L504.9 477.6 L503.2 479.6 L501.8 481.8 L501.1 484.4 L501.0 487.2 L500.8 490.0 L499.9 492.4 L498.7 494.6 L497.3 496.7 L496.1 498.8 L495.0 500.9 L493.7 502.8 L492.2 504.7 L490.7 506.5 L489.5 508.3 L488.4 510.4 L487.3 512.4 L485.8 514.1 L483.9 515.3 L481.7 515.8 L479.3 515.8 L476.9 515.6 L474.5 515.6 L471.9 515.8 L469.2 515.9 L466.5 515.9 L464.0 515.8 L461.5 515.7 L458.7 515.6 L456.2 515.2 L454.2 514.4 L452.8 513.5 M275.2 530.8 L276.9 531.6 L279.1 533.1 L281.0 535.4 L282.6 538.2 L284.5 540.6 L287.0 542.4 L290.0 544.0 L292.9 545.6 L295.3 546.9 L297.2 547.7 M525.1 531.1 L523.7 532.2 L521.7 533.9 L519.2 535.6 L516.6 537.4 L514.6 539.5 L512.8 542.1 L510.5 544.7 L507.5 546.2 L504.7 547.0 L502.8 547.6 M355.9 478.1 L357.6 478.7 L359.9 479.9 L362.0 481.8 L364.1 484.0 L366.1 485.9 L368.0 487.6 L369.8 489.5 L371.5 491.4 L373.4 493.2 L375.5 494.6 L378.1 495.5 L380.7 496.5 L382.9 498.0 L384.6 499.9 L386.0 501.9 L387.6 503.8 L389.3 505.4 L391.1 506.6 L392.6 507.6 L393.7 508.4 M444.3 478.3 L442.8 479.3 L440.8 480.7 L438.4 482.3 L435.8 483.8 L433.4 485.2 L431.5 486.9 L429.9 489.1 L428.5 491.4 L426.8 493.4 L424.6 494.8 L422.1 495.8 L419.6 496.9 L417.4 498.4 L415.5 500.1 L413.7 501.6 L411.9 503.0 L410.1 504.5 L408.5 506.1 L407.3 507.6 L406.5 508.6 M352.1 493.8 L353.5 494.2 L355.3 495.0 L357.3 496.2 L359.2 497.5 L361.1 498.7 L363.2 499.7 L365.4 500.8 L367.5 502.1 L369.3 503.3 L370.6 504.0 M448.1 494.2 L447.1 495.2 L445.5 496.4 L443.5 497.5 L441.2 498.4 L439.1 499.3 L437.0 500.1 L434.6 500.9 L432.2 501.3 L430.1 501.7 L428.6 502.0 M299.8 528.5 L301.4 529.2 L303.7 530.2 L306.4 531.3 L309.4 531.9 L312.2 532.0 L314.7 532.1 L317.5 532.8 L320.5 533.5 L323.5 533.5 L326.1 532.8 L328.7 531.8 L331.5 530.8 L334.1 530.3 L336.3 529.8 L337.9 529.4 M500.1 528.1 L498.2 528.3 L495.6 528.9 L493.1 530.1 L490.6 532.0 L488.1 533.6 L485.3 534.1 L482.4 533.7 L479.5 533.1 L476.7 532.6 L474.0 532.0 L471.4 531.1 L468.7 530.1 L466.0 529.8 L463.7 530.0 L462.0 530.3 M310.1 348.7 L311.5 348.0 L313.4 347.0 L315.5 345.8 L317.4 344.2 L319.0 342.5 L320.5 341.1 L322.2 340.0 L324.1 339.3 L325.9 339.1 L327.9 339.1 L329.8 339.1 L331.8 338.9 L333.6 338.4 L335.4 337.8 L337.2 337.0 L339.0 336.1 L340.9 335.2 L342.7 334.2 L344.3 332.9 L345.8 331.6 L347.2 330.3 L348.7 329.2 L350.3 328.4 L351.9 327.8 L353.4 327.4 L354.7 326.7 L355.8 325.9 L356.6 325.0 L357.2 324.1 L357.5 323.6 M490.7 347.6 L489.5 346.6 L487.6 345.6 L485.1 344.9 L482.6 344.2 L480.5 343.5 L478.8 342.6 L477.2 341.7 L475.5 340.8 L473.8 340.0 L472.1 339.3 L470.3 338.6 L468.5 338.0 L466.8 337.2 L465.1 336.5 L463.3 335.7 L461.4 335.2 L459.3 334.8 L457.2 334.5 L455.1 334.0 L453.4 333.1 L451.9 331.9 L450.5 330.5 L449.2 329.1 L448.1 327.8 L447.1 326.9 L446.2 326.0 L445.5 325.1 L444.8 324.2 L444.3 323.4 L443.9 322.8 M309.9 364.9 L311.5 364.4 L313.7 363.6 L315.8 362.2 L317.6 360.5 L319.1 359.2 L320.4 358.5 L321.5 358.1 L322.6 357.8 L323.7 357.6 L324.9 357.2 L326.3 356.6 L327.8 355.9 L329.3 355.1 L330.8 354.4 L332.1 353.9 L333.2 353.3 L334.4 352.6 L335.5 351.9 L336.6 351.3 L337.6 350.9 L338.6 350.6 L339.5 350.3 L340.5 349.8 L341.7 349.3 L343.0 348.8 L344.6 348.3 L346.5 348.1 L348.4 348.2 L350.3 348.7 L352.2 349.5 L354.0 350.4 L355.9 351.3 L357.8 352.4 L359.4 353.6 L360.7 354.9 L361.7 356.1 L362.6 357.3 L363.4 358.3 L364.2 359.1 L364.8 359.6 M489.9 365.2 L488.8 364.0 L487.1 362.5 L485.1 361.0 L483.0 359.6 L481.3 358.4 L479.9 357.7 L478.6 357.5 L477.5 357.4 L476.3 357.4 L475.0 357.5 L473.4 357.5 L471.6 357.4 L469.9 357.0 L468.3 356.3 L467.0 355.3 L466.1 354.0 L465.5 352.7 L465.1 351.4 L464.5 350.2 L463.5 349.2 L462.3 348.6 L461.1 348.2 L459.8 348.0 L458.5 348.0 L457.0 348.1 L455.4 348.4 L453.6 348.7 L451.8 349.1 L449.9 349.7 L448.2 350.5 L446.5 351.5 L444.6 352.5 L442.6 353.2 L440.5 353.6 L438.7 354.0 L437.1 354.7 L435.7 355.6 L434.8 356.7 L434.2 357.7 L433.9 358.4 M305.9 377.6 L306.7 376.6 L307.7 375.2 L309.1 373.8 L310.8 372.6 L312.8 371.8 L314.8 371.5 L316.9 371.3 L319.1 371.1 L321.3 371.1 L323.5 371.2 L325.7 371.4 L327.9 371.6 L330.1 371.3 L332.1 370.5 L334.0 369.4 L335.7 368.2 L337.3 367.3 L339.1 366.7 L341.0 366.4 L342.9 366.2 L344.8 366.0 L346.7 365.6 L348.5 365.0 L350.3 364.5 L352.1 364.0 L354.0 363.6 L355.8 363.2 L357.6 362.7 L359.3 362.2 L361.0 361.7 L363.0 361.6 L364.9 361.9 L366.7 362.7 L367.9 363.7 L368.8 364.5 M493.9 377.9 L492.9 377.2 L491.7 376.0 L490.5 374.4 L489.1 372.8 L487.4 371.4 L485.3 370.8 L483.1 370.8 L480.9 371.2 L478.6 371.5 L476.4 371.6 L474.3 371.3 L472.2 371.0 L470.0 370.7 L467.9 370.4 L465.9 369.9 L464.1 369.1 L462.4 368.0 L460.8 366.9 L459.2 366.0 L457.4 365.4 L455.4 365.2 L453.4 365.2 L451.4 365.2 L449.5 365.0 L447.7 364.6 L446.0 363.8 L444.2 363.0 L442.5 362.2 L440.7 361.8 L439.0 361.7 L437.2 362.0 L435.3 362.6 L433.6 363.2 L432.1 363.8 L431.1 364.2 M305.3 382.5 L306.4 381.9 L308.1 381.1 L310.2 380.4 L312.4 379.8 L314.5 379.5 L316.6 379.8 L318.8 380.6 L320.9 381.8 L322.8 383.1 L324.4 384.0 L325.8 384.8 L327.4 385.8 L329.1 386.9 L330.4 387.7 L331.3 387.9 L331.9 387.9 L332.8 387.5 L334.0 387.0 L335.5 386.4 L336.9 385.9 L338.5 385.5 L340.0 385.1 L341.6 384.5 L343.1 384.0 L344.7 383.5 L346.2 383.0 L347.7 382.4 L349.2 381.8 L350.6 381.1 L352.1 380.2 L353.6 379.2 L355.3 378.2 L357.1 377.6 L359.1 377.4 L361.0 377.7 L362.9 378.4 L364.7 379.2 L366.5 379.8 L368.1 380.2 L369.7 380.7 L371.1 381.3 L372.5 382.2 L373.8 383.3 L375.0 384.6 L376.0 386.0 L377.1 387.6 L378.2 389.6 L379.1 391.6 L379.6 393.5 L379.7 394.8 M495.0 381.9 L493.8 381.3 L492.0 380.8 L489.7 380.7 L487.4 380.8 L485.5 380.9 L483.6 381.1 L481.4 381.3 L479.0 381.6 L476.9 382.2 L475.0 383.0 L473.4 384.0 L471.9 385.3 L470.6 386.6 L469.5 387.6 L468.7 388.1 L468.0 388.1 L467.0 387.9 L465.6 387.5 L464.1 387.0 L462.6 386.8 L461.1 386.5 L459.6 386.0 L458.2 385.2 L456.8 384.1 L455.5 383.1 L454.2 382.0 L452.8 381.1 L451.4 380.4 L449.8 379.9 L448.2 379.5 L446.4 379.1 L444.6 378.7 L442.7 378.4 L440.8 378.4 L439.0 378.7 L437.2 379.2 L435.4 379.7 L433.6 380.1 L431.9 380.3 L430.2 380.4 L428.5 380.7 L426.7 381.4 L425.2 382.4 L424.0 383.9 L423.2 385.6 L422.8 387.6 L422.5 389.8 L422.1 392.0 L421.7 393.8 L421.4 395.1 M305.6 398.5 L306.6 398.3 L308.0 398.0 L309.7 397.8 L311.4 397.5 L313.1 397.0 L314.7 396.3 L316.4 395.5 L318.2 394.7 L320.0 394.1 L321.8 393.8 L323.7 394.0 L325.5 394.3 L327.4 394.7 L329.3 394.8 L331.2 394.5 L333.2 393.7 L335.2 392.7 L337.3 391.7 L339.4 391.0 L341.5 390.3 L343.5 389.6 L345.6 388.9 L347.8 388.4 L349.9 388.3 L352.0 388.7 L353.9 389.5 L355.6 390.2 L357.2 390.8 L358.9 391.1 L360.8 391.2 L362.9 391.3 L365.1 391.6 L367.2 392.3 L369.0 393.4 L370.4 394.6 L371.4 395.9 L372.1 397.4 L372.6 398.8 L373.0 400.1 L373.2 400.9 M494.4 398.5 L493.4 398.3 L492.0 398.0 L490.4 397.7 L488.6 397.4 L486.9 396.8 L485.3 396.2 L483.6 395.4 L481.8 394.6 L480.0 394.1 L478.2 393.9 L476.3 394.2 L474.5 394.6 L472.6 394.9 L470.7 394.9 L468.8 394.5 L466.8 393.7 L464.8 392.6 L462.8 391.6 L460.7 390.8 L458.6 390.2 L456.5 389.5 L454.4 388.9 L452.2 388.4 L450.1 388.5 L448.0 388.9 L446.1 389.7 L444.4 390.3 L442.8 390.8 L441.1 391.0 L439.2 391.1 L437.1 391.1 L434.8 391.4 L432.8 392.2 L431.0 393.3 L429.6 394.6 L428.6 396.0 L427.9 397.5 L427.5 398.9 L427.1 400.1 L426.9 401.0 M309.9 402.8 L311.2 402.7 L313.0 402.9 L315.2 403.3 L317.2 403.8 L318.9 404.4 L320.2 405.0 L321.4 405.7 L322.5 406.6 L323.6 407.7 L324.5 408.9 L325.4 410.3 L326.4 412.2 L327.7 413.9 L329.0 415.0 L329.6 415.2 L329.7 414.9 L330.2 413.9 L331.0 412.4 L332.3 411.0 L333.8 409.9 L335.3 409.0 L336.8 408.0 L338.0 406.9 L339.2 405.7 L340.3 404.6 L341.8 403.5 L343.4 402.5 L345.2 401.8 L347.1 401.2 L348.9 400.7 L350.8 400.2 L352.7 399.8 L354.6 399.7 L356.5 400.0 L358.1 400.7 L359.3 401.5 L360.4 402.4 L361.2 403.3 L362.1 404.2 L363.2 405.0 L364.6 405.8 L366.4 406.8 L368.2 407.8 L369.6 408.7 L370.5 409.5 M490.0 404.1 L488.7 403.7 L486.9 403.3 L484.8 403.1 L482.7 403.2 L480.9 403.5 L479.3 404.1 L478.0 404.9 L476.8 405.9 L475.8 407.1 L475.0 408.5 L474.4 410.3 L474.0 412.4 L473.3 414.4 L472.2 416.0 L470.6 416.7 L469.4 416.0 L468.9 414.5 L468.5 412.7 L467.9 410.9 L466.8 409.4 L465.6 408.2 L464.2 407.1 L462.8 406.1 L461.4 405.1 L459.9 404.2 L458.3 403.4 L456.5 402.8 L454.6 402.5 L452.7 402.2 L450.9 401.8 L449.1 401.3 L447.3 400.7 L445.4 400.0 L443.5 399.6 L441.7 399.7 L440.2 400.2 L439.0 401.0 L438.0 402.0 L437.1 403.1 L436.2 404.3 L435.2 405.6 L433.9 407.1 L432.5 408.4 L431.2 409.5 L430.3 410.3 M295.2 409.2 L296.4 409.7 L298.0 410.7 L299.8 412.0 L301.6 413.3 L303.4 414.1 L305.4 414.7 L307.5 415.3 L309.7 416.1 L311.6 417.1 L313.4 418.4 L315.1 419.8 L316.8 421.2 L318.6 422.5 L320.3 423.8 L321.9 425.2 L323.5 426.5 L325.2 427.7 L327.1 428.5 L329.0 428.7 L331.0 428.3 L332.7 427.4 L334.3 426.3 L335.9 425.4 L337.8 424.7 L339.8 424.4 L341.7 424.2 L343.6 423.8 L345.4 423.3 L347.2 422.8 L349.0 422.5 L351.0 422.5 L353.0 422.8 L355.1 423.1 L357.3 423.1 L359.6 423.1 L362.2 423.2 L364.7 424.2 L366.8 425.8 L368.5 427.5 L369.7 428.6 M504.9 409.7 L503.8 410.3 L502.2 411.3 L500.3 412.4 L498.4 413.3 L496.4 413.9 L494.4 414.3 L492.1 414.8 L490.0 415.6 L488.2 416.9 L486.6 418.4 L485.1 420.0 L483.5 421.6 L481.8 423.0 L480.0 424.3 L478.2 425.4 L476.5 426.5 L474.7 427.5 L472.8 428.0 L470.9 428.1 L469.0 427.7 L467.4 426.9 L465.8 426.1 L464.1 425.4 L462.1 425.0 L460.0 424.9 L458.0 424.8 L456.2 424.4 L454.4 423.7 L452.7 423.0 L451.0 422.5 L449.0 422.2 L446.9 422.3 L444.8 422.5 L442.5 422.6 L440.3 422.8 L437.9 423.3 L435.5 424.5 L433.4 426.4 L431.8 428.1 L430.5 429.1 M375.6 320.1 L375.9 321.8 L376.3 324.1 L377.0 326.8 L378.2 329.4 L379.7 331.8 L380.8 334.1 L381.3 336.5 L381.1 339.1 L380.9 341.7 L381.1 344.2 L381.9 346.6 L383.0 348.9 L383.9 351.3 L384.6 353.6 L385.1 356.0 L385.5 358.4 L385.7 360.9 L385.3 363.4 L384.4 365.7 L383.1 367.9 L382.1 370.2 L381.5 372.6 L381.6 375.1 L382.0 377.6 L382.5 380.0 L382.8 382.3 L383.1 384.7 L383.5 387.1 L384.0 389.5 L384.3 391.9 L384.4 394.4 L384.5 397.0 L384.7 399.5 L385.5 401.8 L386.8 404.0 L388.1 406.5 L388.7 409.3 L388.6 412.0 L388.2 414.4 L388.0 416.0 M423.7 319.9 L423.2 321.5 L422.4 323.8 L421.5 326.4 L421.1 329.3 L421.2 332.0 L421.3 334.6 L421.1 337.1 L420.1 339.4 L418.7 341.6 L417.4 343.8 L416.5 346.2 L415.9 348.6 L415.5 351.1 L415.1 353.6 L414.9 356.0 L415.2 358.4 L415.9 360.7 L416.7 363.0 L417.1 365.4 L416.8 368.0 L416.3 370.5 L416.1 373.0 L416.5 375.4 L417.4 377.6 L418.1 380.0 L418.3 382.4 L418.0 384.9 L417.5 387.3 L417.1 389.7 L416.6 392.1 L415.7 394.5 L414.5 396.7 L413.2 398.9 L412.3 401.3 L412.2 403.9 L412.7 406.6 L413.3 409.4 L413.3 412.1 L412.8 414.4 L412.4 416.0 M363.9 320.0 L364.0 321.4 L364.3 323.2 L364.9 325.2 L365.8 327.2 L366.6 329.1 L367.3 330.9 L367.9 332.7 L368.7 334.4 L369.6 336.1 L370.6 337.8 L371.6 339.4 L372.4 341.2 L372.9 343.1 L372.9 345.1 L372.6 347.0 L372.0 348.9 L371.6 350.9 L371.6 352.9 L371.7 354.7 L371.8 356.0 M436.3 320.1 L436.2 321.4 L436.0 323.3 L435.3 325.3 L434.3 327.3 L433.2 329.1 L432.4 330.8 L431.7 332.6 L431.0 334.3 L430.2 336.1 L429.4 337.8 L428.5 339.5 L427.8 341.3 L427.3 343.2 L427.3 345.2 L427.6 347.1 L428.1 348.9 L428.4 350.9 L428.4 352.9 L428.2 354.7 L428.0 356.0 M350.9 334.7 L351.2 335.7 L351.7 337.2 L352.3 338.8 L353.2 340.3 L354.2 341.6 L355.4 342.7 L356.7 343.9 L357.9 345.1 L358.9 346.2 L359.6 346.9 M449.1 334.7 L448.2 335.3 L447.1 336.3 L446.1 337.6 L445.2 339.1 L444.6 340.7 L443.9 342.2 L443.1 343.8 L442.3 345.2 L441.4 346.4 L440.8 347.3 M290.2 403.6 L290.4 404.9 L290.6 406.7 L290.8 408.9 L291.1 411.2 L291.6 413.1 L292.1 415.0 L292.7 416.8 L293.3 418.6 L293.8 420.4 L294.4 422.2 L295.4 424.0 L296.7 425.9 L297.9 427.7 L298.8 429.4 L299.2 430.6 M511.3 404.1 L510.8 405.3 L510.0 406.9 L508.8 408.8 L507.7 410.7 L506.9 412.6 L506.5 414.5 L506.5 416.5 L506.6 418.5 L506.5 420.5 L506.1 422.4 L505.3 424.3 L504.1 426.2 L503.0 428.0 L502.1 429.7 L501.6 430.9 M280.2 419.4 L281.1 418.9 L282.2 418.1 L283.4 417.2 L284.7 416.2 L286.0 415.6 L287.4 415.4 L289.1 415.5 L290.5 416.0 L291.7 416.6 L292.4 417.1 M519.9 419.1 L519.2 418.5 L518.1 417.6 L516.8 416.7 L515.4 416.0 L514.0 415.6 L512.6 415.6 L511.1 416.0 L509.7 416.4 L508.5 416.9 L507.7 417.3 M270.2 545.7 L271.5 546.3 L273.3 547.0 L275.4 547.9 L277.6 548.9 L279.7 550.0 L281.8 550.7 L284.2 551.0 L286.5 550.6 L288.8 549.7 L291.0 548.7 L293.3 548.1 L295.6 548.0 L298.0 548.2 L300.3 548.3 L302.5 548.2 L304.6 548.0 L306.5 547.8 L308.4 547.6 L310.4 547.4 L312.4 547.0 L314.5 546.1 L316.6 544.7 L318.7 543.2 L321.0 542.2 L323.5 542.1 L325.9 542.7 L328.3 543.5 L330.6 544.0 L332.9 544.0 L335.1 543.5 L336.9 542.9 L338.6 542.2 L340.2 541.5 L341.6 540.6 L342.9 539.5 L344.2 538.1 L345.4 536.4 L346.8 534.9 L348.2 533.7 L349.4 533.0 M530.2 546.8 L529.1 547.7 L527.3 548.6 L525.1 549.2 L522.6 549.3 L520.2 549.3 L518.0 549.3 L515.8 549.3 L513.5 549.3 L511.2 549.1 L508.9 548.9 L506.6 548.9 L504.2 549.1 L501.8 549.5 L499.5 549.5 L497.3 549.0 L495.4 548.1 L493.6 547.1 L491.8 546.2 L490.0 545.6 L488.0 545.3 L485.7 545.1 L483.4 544.8 L481.0 544.2 L478.6 543.7 L476.3 543.4 L474.1 543.6 L471.7 543.8 L469.4 543.7 L467.1 543.1 L465.1 542.2 L463.4 541.4 L461.9 540.9 L460.3 540.5 L458.6 540.2 L456.8 539.8 L455.0 539.0 L453.3 537.6 L451.9 536.0 L450.8 534.6 L450.1 533.6 M274.7 558.2 L276.2 557.7 L278.5 557.5 L281.2 557.7 L283.9 558.0 L286.2 558.1 L288.2 558.5 L290.1 559.1 L292.0 560.0 L293.9 560.8 L295.9 561.3 L298.0 561.3 L300.1 560.9 L302.2 560.6 L304.3 560.8 L306.1 561.6 L307.5 562.8 L308.6 564.3 L309.5 565.7 L310.4 567.0 L311.5 568.1 L312.7 569.2 L313.9 570.2 L315.1 571.4 L316.2 572.6 L317.2 573.8 L318.0 575.2 L318.6 576.6 L319.3 578.0 L320.1 579.1 L320.9 579.8 L321.9 580.3 L322.9 580.7 L324.1 581.1 L325.5 581.5 L326.9 582.0 L328.5 582.4 L330.3 582.6 L332.1 582.5 L333.7 581.9 L335.2 581.2 L336.6 580.3 L338.0 579.5 L339.3 578.7 L340.4 578.2 L341.3 578.0 M525.1 559.3 L523.6 558.8 L521.4 557.9 L518.9 557.0 L516.2 556.7 L513.7 557.3 L511.8 558.4 L510.1 559.7 L508.3 560.6 L506.3 561.2 L504.1 561.3 L502.0 561.1 L499.9 561.0 L497.8 561.1 L495.9 561.5 L494.1 562.0 L492.5 562.8 L491.0 563.7 L489.8 564.8 L488.7 566.1 L487.8 567.5 L487.1 568.9 L486.4 570.5 L485.6 571.9 L484.7 573.2 L483.6 574.3 L482.5 575.4 L481.4 576.6 L480.4 577.9 L479.6 578.8 L478.9 579.6 L478.1 580.2 L477.1 580.8 L475.9 581.3 L474.5 581.7 L473.1 582.0 L471.5 582.0 L469.8 581.8 L468.1 581.5 L466.4 581.2 L464.9 581.0 L463.3 580.8 L461.8 580.5 L460.4 580.0 L459.2 579.5 L458.4 579.0 M334.2 546.5 L334.3 547.9 L334.9 549.8 L336.1 551.9 L337.5 553.9 L338.6 555.9 L339.4 557.8 L340.1 559.8 L340.7 561.8 L341.4 563.7 L342.0 565.6 L342.6 567.4 L342.9 569.2 L343.1 571.0 L343.3 572.7 L343.7 574.4 L344.2 575.8 L344.9 577.1 L345.8 578.3 L347.0 579.3 L348.3 580.2 L349.6 580.9 L350.9 581.7 L352.1 582.6 L353.4 583.7 L354.7 584.8 L356.3 585.9 L358.1 586.9 L360.1 587.6 L362.2 588.3 L364.1 589.1 L366.0 589.7 L368.0 590.1 L370.0 590.1 L372.0 589.9 L374.1 589.5 L376.1 589.3 L378.1 589.4 L380.0 590.0 L381.9 591.0 L383.7 592.1 L385.6 593.1 L387.9 593.9 L390.1 594.4 L392.0 594.9 L393.4 595.3 M465.0 546.2 L464.3 547.5 L463.5 549.3 L462.7 551.5 L462.0 553.7 L461.2 555.8 L460.5 557.8 L460.1 559.9 L459.9 562.0 L459.8 564.1 L459.6 566.1 L459.0 567.9 L458.1 569.5 L456.9 571.0 L455.7 572.3 L454.6 573.6 L453.7 575.0 L453.2 576.3 L452.8 577.6 L452.3 578.9 L451.7 580.2 L450.9 581.4 L449.8 582.5 L448.5 583.6 L447.2 584.6 L445.7 585.6 L444.0 586.6 L442.1 587.6 L440.1 588.2 L437.9 588.4 L435.7 588.3 L433.6 588.1 L431.7 588.0 L429.7 588.4 L427.8 589.1 L426.0 590.0 L424.1 590.9 L422.2 591.4 L420.3 591.7 L418.3 591.9 L416.4 592.2 L414.3 592.7 L412.0 593.3 L409.7 593.8 L407.7 594.0 L406.2 594.2 M339.9 547.9 L341.2 548.5 L343.1 549.4 L345.1 550.6 L346.7 552.3 L348.1 554.2 L349.6 556.0 L351.4 557.4 L353.4 558.3 L355.5 559.0 L357.6 559.5 L359.7 560.1 L361.6 560.6 L363.7 561.0 L365.7 561.3 L367.8 561.7 L369.9 562.5 L371.8 563.6 L373.4 565.3 L375.0 567.0 L376.7 568.5 L378.7 569.5 L380.9 570.0 L383.2 570.4 L385.4 570.9 L387.3 571.6 L389.1 572.5 L390.9 573.3 L392.7 574.1 L394.2 574.6 L395.3 575.1 M460.6 548.5 L459.7 549.5 L458.1 550.8 L456.1 552.0 L454.0 553.3 L452.0 554.4 L450.1 555.4 L448.1 556.2 L445.9 556.8 L443.8 557.5 L441.9 558.4 L440.2 559.6 L438.5 560.9 L436.7 562.1 L434.9 563.0 L432.9 563.5 L430.8 563.8 L428.5 564.2 L426.4 564.8 L424.4 565.8 L422.5 566.9 L420.6 568.0 L418.6 569.0 L416.6 570.1 L414.8 571.3 L413.2 572.6 L411.5 573.9 L409.7 574.9 L407.9 575.5 L406.2 575.7 L405.0 575.7 M354.4 538.2 L356.0 538.8 L358.2 539.6 L360.5 540.9 L362.4 542.7 L364.2 544.7 L366.2 546.2 L368.4 547.1 L370.8 547.4 L373.2 547.5 L375.6 547.9 L377.9 548.7 L380.4 549.5 L382.8 550.3 L385.2 551.0 L387.3 552.0 L389.3 553.4 L391.3 554.9 L393.3 556.2 L395.1 556.8 L396.4 557.0 M445.3 537.9 L444.3 539.2 L442.9 541.1 L441.0 543.0 L438.4 544.2 L435.8 544.6 L433.4 544.8 L431.1 545.1 L428.8 545.8 L426.6 546.8 L424.4 547.8 L422.1 548.8 L419.9 550.0 L417.7 551.4 L415.5 552.7 L413.3 553.6 L410.9 553.9 L408.4 553.8 L406.0 553.9 L404.2 554.4 L402.9 554.9 M294.2 579.0 L294.9 580.5 L296.3 582.3 L298.3 584.0 L300.5 585.6 L302.5 586.9 L304.1 588.0 L305.7 589.0 L307.3 589.7 L309.1 590.3 L310.9 590.9 L313.0 591.7 L315.1 592.9 L317.3 594.4 L319.5 595.6 L321.7 596.2 L323.9 596.2 L326.0 595.9 L328.0 595.6 L329.9 595.6 L331.9 595.8 L333.8 596.3 L335.8 596.7 L337.8 597.1 L339.7 597.5 L341.5 598.1 L343.3 599.0 L345.0 600.2 L346.6 601.3 L348.1 602.1 L349.2 602.5 M505.3 578.4 L504.2 579.7 L502.7 581.4 L501.1 583.5 L499.6 585.7 L498.2 587.7 L496.6 589.0 L494.9 589.9 L493.0 590.4 L491.1 590.6 L489.0 590.8 L486.9 591.4 L484.8 592.4 L482.5 593.7 L480.3 594.8 L478.1 595.5 L476.0 595.9 L474.1 596.3 L472.2 596.6 L470.3 597.0 L468.3 597.1 L466.3 597.1 L464.2 596.8 L462.1 596.5 L460.1 596.6 L458.2 597.2 L456.4 598.3 L454.8 599.7 L453.3 601.0 L451.9 602.0 L450.8 602.4 M305.3 595.7 L306.5 596.8 L308.4 598.0 L310.9 599.1 L313.4 600.2 L315.6 601.4 L317.6 602.4 L319.6 603.2 L321.7 603.9 L323.7 604.7 L325.5 605.8 L327.2 607.1 L328.9 608.5 L330.8 609.6 L332.7 610.3 L334.8 610.5 L336.9 610.4 L339.1 610.2 L341.2 610.3 L343.1 610.5 L344.7 610.6 L346.2 610.4 L347.7 609.8 L349.1 609.0 L350.3 608.3 L351.2 607.8 M493.9 594.4 L492.9 595.8 L491.4 597.8 L489.5 599.6 L487.1 600.9 L484.7 601.8 L482.5 602.6 L480.5 603.5 L478.5 604.4 L476.5 605.1 L474.5 605.7 L472.5 606.4 L470.6 607.2 L468.8 608.3 L467.1 609.6 L465.3 610.7 L463.3 611.4 L461.2 611.6 L459.0 611.3 L457.0 610.9 L455.3 610.5 L453.9 610.1 L452.5 609.5 L451.1 608.8 L449.8 608.1 L449.0 607.7 M351.7 594.5 L352.8 595.2 L354.1 596.4 L355.3 598.0 L356.5 599.8 L357.8 601.5 L359.4 602.8 L361.2 604.0 L363.3 605.0 L365.3 606.1 L367.2 607.1 L369.2 607.8 L371.3 608.2 L373.4 608.3 L375.5 608.2 L377.5 608.4 L379.4 608.9 L381.3 609.7 L383.2 610.7 L385.1 611.6 L386.8 612.2 L388.7 612.5 L390.6 612.7 L392.4 612.8 L394.0 613.0 L395.1 613.1 M448.7 594.9 L448.2 596.2 L447.5 597.8 L446.2 599.5 L444.5 600.9 L442.5 601.9 L440.5 602.6 L438.4 603.4 L436.4 604.3 L434.3 605.1 L432.3 605.9 L430.3 606.5 L428.4 607.2 L426.5 608.2 L424.8 609.3 L423.0 610.4 L421.0 611.3 L419.0 611.5 L416.9 611.3 L414.8 610.9 L412.9 610.6 L411.0 610.7 L409.1 611.1 L407.3 611.7 L405.9 612.3 L404.8 612.7 M302.8 529.8 L303.7 530.5 L304.8 531.6 L305.9 533.0 L306.8 534.6 L307.7 536.1 L309.0 537.6 L310.7 539.0 L312.5 540.1 L314.2 541.1 L315.3 541.8 M497.1 529.7 L496.7 530.8 L496.2 532.3 L495.6 534.1 L494.8 536.0 L493.4 537.4 L491.6 538.4 L489.3 539.0 L487.0 539.4 L485.2 539.9 L484.0 540.5 M362.2 535.4 L363.9 535.7 L366.2 536.4 L368.8 537.6 L371.5 538.8 L374.0 540.0 L376.3 541.4 L378.6 543.0 L381.0 544.4 L383.6 545.3 L386.2 545.7 L388.6 546.4 L390.6 547.7 L392.1 549.3 L393.2 550.9 L394.0 552.0 M438.3 537.0 L436.8 537.7 L434.4 538.2 L431.4 538.2 L428.4 538.4 L425.7 539.3 L423.3 540.5 L420.9 541.9 L418.4 543.3 L416.2 544.8 L414.3 546.5 L412.6 548.1 L410.8 549.6 L408.9 550.6 L407.0 551.2 L405.7 551.6 M357.6 410.6 L359.2 411.7 L361.8 412.9 L365.0 413.8 L368.1 415.2 L370.4 417.4 L372.3 419.9 L374.6 422.0 L377.1 423.4 L379.7 424.7 L381.9 426.1 L383.8 427.6 L385.5 428.9 L387.2 430.2 L388.7 431.7 L389.9 433.5 L390.6 435.7 L390.6 438.0 L390.4 440.3 L390.4 442.7 L391.0 445.1 L392.0 447.7 L392.9 450.4 L393.3 453.4 L393.4 456.6 L393.5 460.0 L393.5 463.7 L392.7 467.7 L392.4 471.8 L393.7 475.9 L395.1 479.9 L394.9 484.3 L394.3 489.0 L394.3 493.5 L394.1 497.3 L394.2 500.0 M442.3 410.4 L441.0 412.0 L438.7 413.6 L435.6 414.8 L432.4 415.9 L429.6 417.4 L427.2 419.1 L424.7 420.8 L422.2 422.5 L420.1 424.5 L418.5 426.6 L417.0 428.4 L415.4 429.8 L413.7 430.9 L411.9 432.1 L410.2 433.6 L409.0 435.5 L408.5 437.7 L408.4 440.1 L408.4 442.5 L408.3 445.0 L408.1 447.7 L408.0 450.5 L408.1 453.5 L407.6 456.6 L406.4 460.0 L405.5 463.6 L406.1 467.6 L407.2 471.8 L407.0 476.0 L406.3 480.0 L405.8 484.3 L404.8 488.9 L404.4 493.4 L405.4 497.3 L406.1 500.1 M347.7 491.5 L349.4 490.7 L351.7 489.5 L354.4 488.2 L357.5 487.3 L360.3 486.8 L362.8 486.1 L365.0 484.8 L367.1 483.1 L369.3 481.6 L371.9 480.9 L374.7 481.1 L377.7 482.0 L380.5 482.7 L383.3 483.5 L385.8 484.5 L388.0 486.0 L390.4 487.6 L393.0 489.0 L395.3 490.1 L396.8 491.1 M452.3 491.5 L450.7 490.6 L448.3 489.5 L445.6 488.1 L442.8 486.8 L440.0 486.1 L437.3 485.7 L434.8 485.1 L432.6 484.0 L430.5 482.5 L428.1 481.2 L425.2 480.8 L422.3 481.3 L419.4 482.4 L416.6 483.3 L414.1 484.3 L411.9 485.8 L409.7 487.8 L407.5 489.5 L405.3 490.8 L403.6 491.5 M358.3 397.5 L359.9 398.0 L361.9 398.9 L364.0 400.5 L365.8 402.8 L367.6 404.7 L369.5 406.1 L371.7 407.0 L374.0 407.8 L376.1 408.6 L378.1 409.8 L380.1 411.4 L382.1 413.0 L384.1 414.7 L385.5 416.3 L386.4 417.6 M441.5 397.2 L440.2 398.2 L438.5 399.6 L436.4 401.3 L434.2 402.8 L432.2 404.3 L430.3 405.7 L428.4 407.1 L426.3 408.2 L424.0 408.9 L421.7 409.6 L419.3 410.7 L417.4 412.6 L416.2 414.9 L415.2 417.0 L414.4 418.4" stroke-width="9" stroke-dasharray="0.9 1.7" opacity="0.5"/></g>
<g clip-path="url(#bc)" fill="none" stroke="#FDF1F5" stroke-width="2.6" stroke-linecap="round" stroke-linejoin="round"><path d="M355.1 318.8 L355.1 320.3 L354.8 322.5 L354.5 325.2 L354.9 327.8 L356.2 330.2 L358.1 332.1 L360.1 334.0 L362.0 336.0 L363.9 337.9 L365.8 339.5 L367.5 340.8 L369.1 342.0 L370.6 343.5 L371.8 345.2 L372.7 346.9 L373.6 348.7 L375.0 350.6 L376.7 352.5 L378.0 354.5 L378.5 356.6 L378.2 358.7 L377.3 360.6 L376.2 362.3 L374.9 363.7 L373.6 364.9 L372.0 365.7 L370.1 366.0 L368.1 365.9 L366.4 365.8 L365.1 365.9 M445.2 318.8 L445.0 320.3 L444.8 322.4 L444.4 324.9 L443.8 327.4 L443.0 329.8 L442.1 332.2 L440.9 334.7 L439.0 336.9 L436.6 338.4 L434.2 339.5 L432.3 340.5 L430.6 341.6 L429.1 343.1 L427.8 344.7 L426.7 346.4 L425.7 348.3 L424.6 350.4 L423.7 352.6 L423.2 354.7 L423.0 356.6 L423.0 358.4 L423.2 360.3 L423.7 362.4 L424.5 364.3 L425.7 365.8 L427.6 366.7 L429.8 366.7 L431.8 366.3 L433.6 366.0 L434.9 366.0 M270.1 457.9 L271.6 457.7 L273.6 457.3 L275.7 456.4 L277.8 455.2 L279.7 454.1 L281.9 453.6 L284.0 453.8 L286.1 454.7 L287.9 456.1 L289.5 457.6 L291.1 459.1 L292.7 460.7 L294.3 462.5 L295.7 464.3 L297.0 466.2 L298.3 467.9 L299.7 469.5 L301.2 471.2 L302.6 473.0 L303.7 475.0 L304.2 477.4 L304.4 480.0 L304.7 482.6 L305.5 485.0 L306.8 487.2 L308.1 489.3 L309.2 491.5 L310.3 493.8 L311.5 495.9 L312.9 497.9 L314.2 500.0 L315.1 502.3 L315.7 504.8 L316.5 507.2 L318.1 509.1 L320.3 510.0 L322.9 510.0 L325.3 509.4 L327.8 509.0 L330.1 508.9 L332.4 508.9 L334.7 508.7 L337.0 508.4 L339.3 508.1 L341.5 508.1 L343.7 508.3 L345.7 508.3 L347.6 508.0 L349.4 507.4 L351.3 506.7 L353.2 506.0 L355.3 505.7 L357.3 505.9 L359.3 506.6 L361.1 507.6 L362.9 508.5 L364.8 509.4 L366.7 510.1 L368.6 510.9 L370.5 511.8 L372.4 512.7 L374.3 513.7 L376.4 514.4 L378.7 514.8 L380.9 515.2 L383.2 515.9 L385.3 517.4 L387.1 519.2 L388.7 520.8 L389.9 521.8 M530.0 457.7 L528.6 457.3 L526.5 456.9 L524.3 456.4 L522.2 455.6 L520.2 454.8 L518.2 454.2 L516.0 454.0 L513.8 454.5 L511.9 455.7 L510.3 457.2 L508.8 459.0 L507.3 460.8 L505.8 462.5 L504.2 464.3 L502.8 466.1 L501.7 467.9 L500.6 469.6 L499.3 471.4 L497.8 473.2 L496.4 475.0 L495.4 477.2 L495.0 479.7 L494.9 482.4 L494.5 485.0 L493.5 487.3 L492.2 489.4 L490.8 491.6 L489.7 493.8 L488.6 496.0 L487.3 498.0 L486.0 500.1 L484.7 502.2 L483.9 504.5 L483.0 506.7 L481.7 508.8 L479.7 510.1 L477.2 510.5 L474.7 510.0 L472.2 509.2 L469.9 508.8 L467.7 508.7 L465.3 508.6 L463.0 508.5 L460.7 508.1 L458.5 507.9 L456.4 507.9 L454.3 507.9 L452.4 507.8 L450.6 507.6 L448.7 507.2 L446.8 506.7 L444.8 506.2 L442.7 506.0 L440.7 506.3 L438.8 507.1 L436.9 508.2 L435.1 509.2 L433.3 510.2 L431.4 511.0 L429.4 511.7 L427.5 512.6 L425.6 513.6 L423.6 514.5 L421.6 515.2 L419.3 515.7 L416.9 516.2 L414.6 517.1 L412.6 518.7 L411.1 520.3 L410.0 521.4 M269.9 471.9 L271.4 472.0 L273.6 472.1 L275.8 471.8 L277.9 471.2 L279.6 471.1 L281.2 471.6 L282.8 472.8 L284.2 474.5 L285.5 476.5 L286.8 478.5 L288.0 480.8 L288.9 483.5 L289.1 486.5 L289.2 489.5 L289.9 492.2 L291.4 494.4 L293.1 496.3 L294.6 498.3 L295.7 500.4 L296.6 502.7 L297.5 505.2 L298.6 507.8 L299.8 510.3 L300.8 512.8 L301.8 515.0 L302.9 516.8 L304.3 518.2 L305.9 519.1 L307.7 519.8 L309.5 520.2 L311.3 520.8 L312.9 521.7 L314.7 522.8 L316.5 523.9 L318.7 524.7 L321.2 524.9 L323.9 524.5 L326.7 524.0 L329.4 523.5 L331.8 522.8 L333.9 522.0 L335.9 521.2 L337.8 520.6 L339.6 520.3 L341.3 520.2 L343.0 520.2 L344.8 520.1 L346.5 519.7 L347.7 519.2 L348.6 518.7 M530.1 471.8 L528.8 471.4 L526.8 470.7 L524.5 470.0 L522.2 469.8 L520.2 470.4 L518.9 471.8 L518.0 473.5 L517.1 475.4 L515.8 477.2 L514.0 478.9 L512.1 480.8 L510.7 483.3 L510.0 486.2 L509.6 489.1 L508.9 491.7 L508.1 494.2 L507.4 496.5 L506.8 498.9 L506.0 501.2 L504.6 503.3 L502.7 505.3 L500.6 507.3 L499.1 509.6 L498.3 512.2 L497.6 514.6 L496.7 516.5 L495.6 518.1 L494.3 519.4 L492.9 520.4 L491.2 521.4 L489.5 522.3 L487.6 523.1 L485.6 523.6 L483.4 523.7 L481.2 523.4 L478.9 523.1 L476.2 523.1 L473.3 523.6 L470.5 524.0 L468.1 523.8 L465.9 523.1 L463.9 522.3 L462.0 521.6 L460.3 521.1 L458.6 520.6 L457.1 520.0 L455.6 519.2 L454.3 518.4 L453.2 517.6 L452.4 517.1 M267.5 510.2 L268.8 511.1 L270.7 512.4 L272.8 514.0 L274.9 515.8 L276.9 517.4 L278.7 519.1 L280.1 521.1 L281.0 523.4 L281.5 525.8 L282.2 528.1 L283.2 530.0 L284.7 531.6 L286.4 532.8 L288.2 534.0 L289.9 535.2 L291.5 536.6 L292.9 538.1 L294.4 539.5 L296.0 540.8 L297.8 541.7 L299.7 542.6 L301.7 543.5 L304.0 544.4 L306.4 544.9 L309.0 544.7 L311.8 543.6 L314.6 542.4 L317.7 541.8 L320.8 542.0 L323.6 542.2 L326.1 542.2 L328.5 542.1 L330.8 542.0 L333.0 541.8 L335.3 541.2 L337.3 539.9 L339.1 538.1 L340.7 536.1 L342.3 534.5 L344.0 533.3 L345.9 532.2 L347.7 530.7 L349.0 529.0 L349.9 527.4 L350.3 526.3 M532.0 509.6 L530.8 510.6 L528.9 512.0 L526.7 513.5 L524.5 515.2 L522.9 517.3 L522.0 519.6 L521.4 522.0 L520.6 524.3 L519.2 526.2 L517.4 527.8 L515.6 529.2 L514.0 530.6 L512.7 532.1 L511.4 533.7 L510.1 535.3 L508.7 536.8 L507.3 538.3 L505.8 539.8 L504.4 541.3 L502.7 542.8 L500.7 543.9 L498.4 544.4 L496.0 544.1 L493.5 543.4 L491.0 542.7 L488.3 542.5 L485.3 542.9 L482.1 543.1 L479.1 542.9 L476.3 542.6 L473.8 542.5 L471.5 542.4 L469.2 542.0 L467.1 541.1 L465.2 539.8 L463.4 538.4 L461.4 537.3 L459.0 536.6 L456.6 535.8 L454.6 534.6 L453.1 532.9 L452.1 530.8 L451.4 528.8 L450.8 527.1 L450.3 525.9 M305.0 447.0 L305.9 446.1 L306.9 444.6 L307.8 442.6 L308.8 440.6 L310.2 439.0 L312.0 438.0 L314.2 437.5 L316.5 437.5 L318.6 437.7 L320.4 438.2 L322.0 439.0 L323.5 440.2 L324.8 441.7 L325.6 443.3 L326.0 444.8 L326.1 446.3 L326.1 448.2 L325.9 450.6 L325.6 453.0 L324.7 455.1 L323.2 456.8 L321.1 458.0 L319.0 459.1 L317.3 460.5 L316.3 462.2 L316.1 464.1 L316.4 466.0 L316.9 467.8 L317.6 469.4 L318.6 470.7 L319.9 471.7 L321.6 472.4 L323.5 472.7 L325.3 472.8 L326.9 472.8 L328.4 472.8 L330.1 472.8 L331.9 472.7 L333.9 472.4 L335.8 471.5 L337.3 470.0 L338.3 467.9 L339.1 465.7 L340.0 463.7 L341.2 462.1 L342.5 461.0 L343.8 460.1 L345.2 459.4 L346.6 458.9 L348.0 458.6 L349.5 458.8 L350.9 459.4 L352.3 460.3 L353.3 461.5 L354.0 462.9 L354.5 464.4 L355.0 466.2 L355.9 468.0 L356.9 469.6 L357.8 470.6 M495.5 446.6 L495.0 445.3 L494.4 443.5 L493.4 441.5 L491.8 439.9 L489.8 439.0 L487.7 438.7 L485.5 438.6 L483.4 438.4 L481.4 438.4 L479.7 438.6 L478.2 439.3 L476.7 440.4 L475.3 441.7 L474.0 443.1 L473.1 444.6 L472.5 446.4 L472.5 448.7 L473.2 450.9 L474.6 452.9 L476.3 454.4 L478.1 455.7 L479.9 457.0 L481.4 458.7 L482.6 460.6 L483.1 462.4 L483.2 464.2 L483.0 466.0 L482.6 467.6 L481.8 469.1 L480.9 470.3 L479.6 471.1 L478.1 471.8 L476.4 472.5 L474.8 473.3 L473.1 474.0 L471.3 474.4 L469.4 474.4 L467.5 473.7 L465.9 472.6 L464.7 471.0 L463.7 469.1 L462.8 467.1 L461.7 465.2 L460.3 463.5 L458.8 462.1 L457.4 461.1 L456.1 460.3 L454.7 459.6 L453.3 459.3 L452.0 459.3 L450.7 459.7 L449.5 460.4 L448.4 461.4 L447.3 462.3 L446.3 463.2 L445.2 464.3 L443.8 465.8 L442.5 467.5 L441.6 469.1 L441.1 470.2 M361.9 429.5 L362.9 431.3 L363.7 434.0 L364.6 437.3 L365.8 440.4 L367.1 443.2 L368.2 445.8 L369.4 448.2 L371.0 450.4 L373.0 452.2 L374.9 453.8 L376.4 455.4 L377.5 457.2 L378.3 459.1 L379.1 461.1 L379.8 462.9 L380.6 464.7 L381.4 466.4 L382.3 468.2 L383.0 470.1 L383.6 472.3 L384.3 474.7 L385.0 477.3 L385.8 480.0 L386.0 482.7 L385.7 485.2 L385.2 487.6 L385.0 490.0 L385.3 492.2 L385.9 493.9 L386.5 495.1 M439.3 430.1 L438.3 431.9 L436.9 434.3 L434.9 437.0 L432.9 439.8 L431.9 442.7 L431.4 445.6 L430.9 448.4 L429.6 450.7 L427.8 452.7 L426.0 454.4 L424.3 455.9 L422.8 457.4 L421.5 459.0 L420.2 460.5 L419.0 462.2 L418.1 464.1 L417.5 466.0 L417.3 468.0 L417.4 470.2 L417.4 472.5 L417.0 474.9 L415.9 477.4 L414.6 480.1 L413.8 482.7 L413.7 485.1 L413.8 487.5 L413.8 489.8 L413.6 492.0 L413.4 493.8 L413.3 495.1 M350.1 524.8 L351.5 525.8 L353.4 527.5 L355.7 529.4 L358.3 530.6 L360.8 531.3 L362.9 531.8 L364.8 532.2 L366.7 532.7 L368.6 533.1 L370.9 533.6 L373.6 534.2 L376.3 535.5 L378.7 537.7 L380.9 540.0 L383.2 541.6 L385.8 542.4 L388.5 543.0 L391.0 543.8 L392.9 544.8 L394.3 545.5 M450.8 526.9 L449.2 527.4 L446.7 527.8 L443.9 528.5 L441.2 529.5 L438.8 530.3 L436.8 530.8 L434.9 531.3 L433.1 531.8 L431.2 532.8 L429.4 534.3 L427.3 536.1 L424.7 537.5 L421.6 538.2 L418.5 538.7 L415.8 539.7 L413.5 541.1 L411.3 542.7 L409.1 544.1 L407.3 545.2 L406.1 546.1 M268.6 440.7 L269.9 439.8 L271.4 438.2 L273.2 436.1 L275.4 434.4 L277.9 433.8 L280.3 434.1 L282.7 434.9 L285.0 435.6 L287.3 436.2 L289.3 437.0 L291.0 438.0 L292.6 439.4 L294.3 440.8 L296.0 442.0 L297.8 442.7 L299.5 443.2 L301.2 443.6 L302.6 444.2 L303.7 444.9 L304.5 445.5 M532.4 439.1 L530.9 438.6 L528.9 437.6 L526.6 436.5 L524.1 435.7 L521.8 435.4 L519.6 435.6 L517.4 435.9 L515.0 435.8 L512.5 435.6 L510.1 435.7 L507.9 436.5 L506.2 438.1 L505.0 440.0 L503.9 441.9 L502.7 443.4 L501.2 444.5 L499.6 445.2 L498.2 445.8 L497.0 446.3 L496.1 446.7 M323.1 430.7 L324.1 431.7 L325.7 432.8 L327.8 433.8 L330.3 434.7 L332.5 435.8 L334.2 437.6 L335.2 439.9 L335.9 442.3 L336.7 444.6 L337.8 446.6 L339.1 448.2 L340.3 449.7 L341.5 451.2 L342.9 452.4 L344.5 453.3 L346.4 453.6 L348.4 453.4 L350.4 452.8 L352.3 452.1 L354.1 451.6 L356.3 451.2 L359.0 450.5 L361.6 449.5 L363.5 448.1 L364.7 446.9 M476.2 429.8 L474.9 430.3 L473.1 431.2 L471.1 432.5 L469.5 434.4 L468.4 436.7 L467.6 438.9 L466.6 441.0 L465.0 442.9 L463.2 444.6 L461.5 446.1 L460.1 447.6 L458.9 449.1 L457.7 450.4 L456.4 451.5 L455.0 452.2 L453.4 452.7 L451.6 453.1 L449.6 453.5 L447.4 453.9 L445.1 453.8 L442.8 452.8 L440.8 450.8 L439.2 448.4 L437.7 446.5 L436.4 445.4 M280.8 463.4 L282.3 463.7 L284.5 464.0 L286.8 464.9 L288.9 466.6 L290.3 468.7 L291.2 471.0 L292.2 473.2 L293.3 475.5 L294.4 477.9 L295.5 480.2 L296.6 482.5 L298.1 484.8 L299.7 486.9 L301.2 489.2 L301.9 491.6 L302.2 494.2 L302.3 496.8 L302.9 499.2 L304.0 501.4 L305.6 503.2 L307.2 505.0 L308.6 506.9 L310.1 508.7 L311.7 510.2 L313.4 511.4 L315.2 512.4 L316.9 513.5 L318.7 514.7 L320.6 516.1 L322.8 517.1 L325.3 517.5 L328.1 517.0 L330.8 516.1 L333.4 515.5 L335.9 515.2 L338.4 515.0 L341.0 514.6 L343.4 513.9 L345.5 513.5 L347.1 513.3 M518.5 462.1 L517.4 463.2 L515.9 464.7 L514.0 466.2 L512.1 467.8 L510.4 469.3 L509.1 471.2 L507.9 473.3 L506.6 475.5 L504.9 477.6 L503.2 479.6 L501.8 481.8 L501.1 484.4 L501.0 487.2 L500.8 490.0 L499.9 492.4 L498.7 494.6 L497.3 496.7 L496.1 498.8 L495.0 500.9 L493.7 502.8 L492.2 504.7 L490.7 506.5 L489.5 508.3 L488.4 510.4 L487.3 512.4 L485.8 514.1 L483.9 515.3 L481.7 515.8 L479.3 515.8 L476.9 515.6 L474.5 515.6 L471.9 515.8 L469.2 515.9 L466.5 515.9 L464.0 515.8 L461.5 515.7 L458.7 515.6 L456.2 515.2 L454.2 514.4 L452.8 513.5 M275.2 530.8 L276.9 531.6 L279.1 533.1 L281.0 535.4 L282.6 538.2 L284.5 540.6 L287.0 542.4 L290.0 544.0 L292.9 545.6 L295.3 546.9 L297.2 547.7 M525.1 531.1 L523.7 532.2 L521.7 533.9 L519.2 535.6 L516.6 537.4 L514.6 539.5 L512.8 542.1 L510.5 544.7 L507.5 546.2 L504.7 547.0 L502.8 547.6 M355.9 478.1 L357.6 478.7 L359.9 479.9 L362.0 481.8 L364.1 484.0 L366.1 485.9 L368.0 487.6 L369.8 489.5 L371.5 491.4 L373.4 493.2 L375.5 494.6 L378.1 495.5 L380.7 496.5 L382.9 498.0 L384.6 499.9 L386.0 501.9 L387.6 503.8 L389.3 505.4 L391.1 506.6 L392.6 507.6 L393.7 508.4 M444.3 478.3 L442.8 479.3 L440.8 480.7 L438.4 482.3 L435.8 483.8 L433.4 485.2 L431.5 486.9 L429.9 489.1 L428.5 491.4 L426.8 493.4 L424.6 494.8 L422.1 495.8 L419.6 496.9 L417.4 498.4 L415.5 500.1 L413.7 501.6 L411.9 503.0 L410.1 504.5 L408.5 506.1 L407.3 507.6 L406.5 508.6 M352.1 493.8 L353.5 494.2 L355.3 495.0 L357.3 496.2 L359.2 497.5 L361.1 498.7 L363.2 499.7 L365.4 500.8 L367.5 502.1 L369.3 503.3 L370.6 504.0 M448.1 494.2 L447.1 495.2 L445.5 496.4 L443.5 497.5 L441.2 498.4 L439.1 499.3 L437.0 500.1 L434.6 500.9 L432.2 501.3 L430.1 501.7 L428.6 502.0 M299.8 528.5 L301.4 529.2 L303.7 530.2 L306.4 531.3 L309.4 531.9 L312.2 532.0 L314.7 532.1 L317.5 532.8 L320.5 533.5 L323.5 533.5 L326.1 532.8 L328.7 531.8 L331.5 530.8 L334.1 530.3 L336.3 529.8 L337.9 529.4 M500.1 528.1 L498.2 528.3 L495.6 528.9 L493.1 530.1 L490.6 532.0 L488.1 533.6 L485.3 534.1 L482.4 533.7 L479.5 533.1 L476.7 532.6 L474.0 532.0 L471.4 531.1 L468.7 530.1 L466.0 529.8 L463.7 530.0 L462.0 530.3 M310.1 348.7 L311.5 348.0 L313.4 347.0 L315.5 345.8 L317.4 344.2 L319.0 342.5 L320.5 341.1 L322.2 340.0 L324.1 339.3 L325.9 339.1 L327.9 339.1 L329.8 339.1 L331.8 338.9 L333.6 338.4 L335.4 337.8 L337.2 337.0 L339.0 336.1 L340.9 335.2 L342.7 334.2 L344.3 332.9 L345.8 331.6 L347.2 330.3 L348.7 329.2 L350.3 328.4 L351.9 327.8 L353.4 327.4 L354.7 326.7 L355.8 325.9 L356.6 325.0 L357.2 324.1 L357.5 323.6 M490.7 347.6 L489.5 346.6 L487.6 345.6 L485.1 344.9 L482.6 344.2 L480.5 343.5 L478.8 342.6 L477.2 341.7 L475.5 340.8 L473.8 340.0 L472.1 339.3 L470.3 338.6 L468.5 338.0 L466.8 337.2 L465.1 336.5 L463.3 335.7 L461.4 335.2 L459.3 334.8 L457.2 334.5 L455.1 334.0 L453.4 333.1 L451.9 331.9 L450.5 330.5 L449.2 329.1 L448.1 327.8 L447.1 326.9 L446.2 326.0 L445.5 325.1 L444.8 324.2 L444.3 323.4 L443.9 322.8 M309.9 364.9 L311.5 364.4 L313.7 363.6 L315.8 362.2 L317.6 360.5 L319.1 359.2 L320.4 358.5 L321.5 358.1 L322.6 357.8 L323.7 357.6 L324.9 357.2 L326.3 356.6 L327.8 355.9 L329.3 355.1 L330.8 354.4 L332.1 353.9 L333.2 353.3 L334.4 352.6 L335.5 351.9 L336.6 351.3 L337.6 350.9 L338.6 350.6 L339.5 350.3 L340.5 349.8 L341.7 349.3 L343.0 348.8 L344.6 348.3 L346.5 348.1 L348.4 348.2 L350.3 348.7 L352.2 349.5 L354.0 350.4 L355.9 351.3 L357.8 352.4 L359.4 353.6 L360.7 354.9 L361.7 356.1 L362.6 357.3 L363.4 358.3 L364.2 359.1 L364.8 359.6 M489.9 365.2 L488.8 364.0 L487.1 362.5 L485.1 361.0 L483.0 359.6 L481.3 358.4 L479.9 357.7 L478.6 357.5 L477.5 357.4 L476.3 357.4 L475.0 357.5 L473.4 357.5 L471.6 357.4 L469.9 357.0 L468.3 356.3 L467.0 355.3 L466.1 354.0 L465.5 352.7 L465.1 351.4 L464.5 350.2 L463.5 349.2 L462.3 348.6 L461.1 348.2 L459.8 348.0 L458.5 348.0 L457.0 348.1 L455.4 348.4 L453.6 348.7 L451.8 349.1 L449.9 349.7 L448.2 350.5 L446.5 351.5 L444.6 352.5 L442.6 353.2 L440.5 353.6 L438.7 354.0 L437.1 354.7 L435.7 355.6 L434.8 356.7 L434.2 357.7 L433.9 358.4 M305.9 377.6 L306.7 376.6 L307.7 375.2 L309.1 373.8 L310.8 372.6 L312.8 371.8 L314.8 371.5 L316.9 371.3 L319.1 371.1 L321.3 371.1 L323.5 371.2 L325.7 371.4 L327.9 371.6 L330.1 371.3 L332.1 370.5 L334.0 369.4 L335.7 368.2 L337.3 367.3 L339.1 366.7 L341.0 366.4 L342.9 366.2 L344.8 366.0 L346.7 365.6 L348.5 365.0 L350.3 364.5 L352.1 364.0 L354.0 363.6 L355.8 363.2 L357.6 362.7 L359.3 362.2 L361.0 361.7 L363.0 361.6 L364.9 361.9 L366.7 362.7 L367.9 363.7 L368.8 364.5 M493.9 377.9 L492.9 377.2 L491.7 376.0 L490.5 374.4 L489.1 372.8 L487.4 371.4 L485.3 370.8 L483.1 370.8 L480.9 371.2 L478.6 371.5 L476.4 371.6 L474.3 371.3 L472.2 371.0 L470.0 370.7 L467.9 370.4 L465.9 369.9 L464.1 369.1 L462.4 368.0 L460.8 366.9 L459.2 366.0 L457.4 365.4 L455.4 365.2 L453.4 365.2 L451.4 365.2 L449.5 365.0 L447.7 364.6 L446.0 363.8 L444.2 363.0 L442.5 362.2 L440.7 361.8 L439.0 361.7 L437.2 362.0 L435.3 362.6 L433.6 363.2 L432.1 363.8 L431.1 364.2 M305.3 382.5 L306.4 381.9 L308.1 381.1 L310.2 380.4 L312.4 379.8 L314.5 379.5 L316.6 379.8 L318.8 380.6 L320.9 381.8 L322.8 383.1 L324.4 384.0 L325.8 384.8 L327.4 385.8 L329.1 386.9 L330.4 387.7 L331.3 387.9 L331.9 387.9 L332.8 387.5 L334.0 387.0 L335.5 386.4 L336.9 385.9 L338.5 385.5 L340.0 385.1 L341.6 384.5 L343.1 384.0 L344.7 383.5 L346.2 383.0 L347.7 382.4 L349.2 381.8 L350.6 381.1 L352.1 380.2 L353.6 379.2 L355.3 378.2 L357.1 377.6 L359.1 377.4 L361.0 377.7 L362.9 378.4 L364.7 379.2 L366.5 379.8 L368.1 380.2 L369.7 380.7 L371.1 381.3 L372.5 382.2 L373.8 383.3 L375.0 384.6 L376.0 386.0 L377.1 387.6 L378.2 389.6 L379.1 391.6 L379.6 393.5 L379.7 394.8 M495.0 381.9 L493.8 381.3 L492.0 380.8 L489.7 380.7 L487.4 380.8 L485.5 380.9 L483.6 381.1 L481.4 381.3 L479.0 381.6 L476.9 382.2 L475.0 383.0 L473.4 384.0 L471.9 385.3 L470.6 386.6 L469.5 387.6 L468.7 388.1 L468.0 388.1 L467.0 387.9 L465.6 387.5 L464.1 387.0 L462.6 386.8 L461.1 386.5 L459.6 386.0 L458.2 385.2 L456.8 384.1 L455.5 383.1 L454.2 382.0 L452.8 381.1 L451.4 380.4 L449.8 379.9 L448.2 379.5 L446.4 379.1 L444.6 378.7 L442.7 378.4 L440.8 378.4 L439.0 378.7 L437.2 379.2 L435.4 379.7 L433.6 380.1 L431.9 380.3 L430.2 380.4 L428.5 380.7 L426.7 381.4 L425.2 382.4 L424.0 383.9 L423.2 385.6 L422.8 387.6 L422.5 389.8 L422.1 392.0 L421.7 393.8 L421.4 395.1 M305.6 398.5 L306.6 398.3 L308.0 398.0 L309.7 397.8 L311.4 397.5 L313.1 397.0 L314.7 396.3 L316.4 395.5 L318.2 394.7 L320.0 394.1 L321.8 393.8 L323.7 394.0 L325.5 394.3 L327.4 394.7 L329.3 394.8 L331.2 394.5 L333.2 393.7 L335.2 392.7 L337.3 391.7 L339.4 391.0 L341.5 390.3 L343.5 389.6 L345.6 388.9 L347.8 388.4 L349.9 388.3 L352.0 388.7 L353.9 389.5 L355.6 390.2 L357.2 390.8 L358.9 391.1 L360.8 391.2 L362.9 391.3 L365.1 391.6 L367.2 392.3 L369.0 393.4 L370.4 394.6 L371.4 395.9 L372.1 397.4 L372.6 398.8 L373.0 400.1 L373.2 400.9 M494.4 398.5 L493.4 398.3 L492.0 398.0 L490.4 397.7 L488.6 397.4 L486.9 396.8 L485.3 396.2 L483.6 395.4 L481.8 394.6 L480.0 394.1 L478.2 393.9 L476.3 394.2 L474.5 394.6 L472.6 394.9 L470.7 394.9 L468.8 394.5 L466.8 393.7 L464.8 392.6 L462.8 391.6 L460.7 390.8 L458.6 390.2 L456.5 389.5 L454.4 388.9 L452.2 388.4 L450.1 388.5 L448.0 388.9 L446.1 389.7 L444.4 390.3 L442.8 390.8 L441.1 391.0 L439.2 391.1 L437.1 391.1 L434.8 391.4 L432.8 392.2 L431.0 393.3 L429.6 394.6 L428.6 396.0 L427.9 397.5 L427.5 398.9 L427.1 400.1 L426.9 401.0 M309.9 402.8 L311.2 402.7 L313.0 402.9 L315.2 403.3 L317.2 403.8 L318.9 404.4 L320.2 405.0 L321.4 405.7 L322.5 406.6 L323.6 407.7 L324.5 408.9 L325.4 410.3 L326.4 412.2 L327.7 413.9 L329.0 415.0 L329.6 415.2 L329.7 414.9 L330.2 413.9 L331.0 412.4 L332.3 411.0 L333.8 409.9 L335.3 409.0 L336.8 408.0 L338.0 406.9 L339.2 405.7 L340.3 404.6 L341.8 403.5 L343.4 402.5 L345.2 401.8 L347.1 401.2 L348.9 400.7 L350.8 400.2 L352.7 399.8 L354.6 399.7 L356.5 400.0 L358.1 400.7 L359.3 401.5 L360.4 402.4 L361.2 403.3 L362.1 404.2 L363.2 405.0 L364.6 405.8 L366.4 406.8 L368.2 407.8 L369.6 408.7 L370.5 409.5 M490.0 404.1 L488.7 403.7 L486.9 403.3 L484.8 403.1 L482.7 403.2 L480.9 403.5 L479.3 404.1 L478.0 404.9 L476.8 405.9 L475.8 407.1 L475.0 408.5 L474.4 410.3 L474.0 412.4 L473.3 414.4 L472.2 416.0 L470.6 416.7 L469.4 416.0 L468.9 414.5 L468.5 412.7 L467.9 410.9 L466.8 409.4 L465.6 408.2 L464.2 407.1 L462.8 406.1 L461.4 405.1 L459.9 404.2 L458.3 403.4 L456.5 402.8 L454.6 402.5 L452.7 402.2 L450.9 401.8 L449.1 401.3 L447.3 400.7 L445.4 400.0 L443.5 399.6 L441.7 399.7 L440.2 400.2 L439.0 401.0 L438.0 402.0 L437.1 403.1 L436.2 404.3 L435.2 405.6 L433.9 407.1 L432.5 408.4 L431.2 409.5 L430.3 410.3 M295.2 409.2 L296.4 409.7 L298.0 410.7 L299.8 412.0 L301.6 413.3 L303.4 414.1 L305.4 414.7 L307.5 415.3 L309.7 416.1 L311.6 417.1 L313.4 418.4 L315.1 419.8 L316.8 421.2 L318.6 422.5 L320.3 423.8 L321.9 425.2 L323.5 426.5 L325.2 427.7 L327.1 428.5 L329.0 428.7 L331.0 428.3 L332.7 427.4 L334.3 426.3 L335.9 425.4 L337.8 424.7 L339.8 424.4 L341.7 424.2 L343.6 423.8 L345.4 423.3 L347.2 422.8 L349.0 422.5 L351.0 422.5 L353.0 422.8 L355.1 423.1 L357.3 423.1 L359.6 423.1 L362.2 423.2 L364.7 424.2 L366.8 425.8 L368.5 427.5 L369.7 428.6 M504.9 409.7 L503.8 410.3 L502.2 411.3 L500.3 412.4 L498.4 413.3 L496.4 413.9 L494.4 414.3 L492.1 414.8 L490.0 415.6 L488.2 416.9 L486.6 418.4 L485.1 420.0 L483.5 421.6 L481.8 423.0 L480.0 424.3 L478.2 425.4 L476.5 426.5 L474.7 427.5 L472.8 428.0 L470.9 428.1 L469.0 427.7 L467.4 426.9 L465.8 426.1 L464.1 425.4 L462.1 425.0 L460.0 424.9 L458.0 424.8 L456.2 424.4 L454.4 423.7 L452.7 423.0 L451.0 422.5 L449.0 422.2 L446.9 422.3 L444.8 422.5 L442.5 422.6 L440.3 422.8 L437.9 423.3 L435.5 424.5 L433.4 426.4 L431.8 428.1 L430.5 429.1 M375.6 320.1 L375.9 321.8 L376.3 324.1 L377.0 326.8 L378.2 329.4 L379.7 331.8 L380.8 334.1 L381.3 336.5 L381.1 339.1 L380.9 341.7 L381.1 344.2 L381.9 346.6 L383.0 348.9 L383.9 351.3 L384.6 353.6 L385.1 356.0 L385.5 358.4 L385.7 360.9 L385.3 363.4 L384.4 365.7 L383.1 367.9 L382.1 370.2 L381.5 372.6 L381.6 375.1 L382.0 377.6 L382.5 380.0 L382.8 382.3 L383.1 384.7 L383.5 387.1 L384.0 389.5 L384.3 391.9 L384.4 394.4 L384.5 397.0 L384.7 399.5 L385.5 401.8 L386.8 404.0 L388.1 406.5 L388.7 409.3 L388.6 412.0 L388.2 414.4 L388.0 416.0 M423.7 319.9 L423.2 321.5 L422.4 323.8 L421.5 326.4 L421.1 329.3 L421.2 332.0 L421.3 334.6 L421.1 337.1 L420.1 339.4 L418.7 341.6 L417.4 343.8 L416.5 346.2 L415.9 348.6 L415.5 351.1 L415.1 353.6 L414.9 356.0 L415.2 358.4 L415.9 360.7 L416.7 363.0 L417.1 365.4 L416.8 368.0 L416.3 370.5 L416.1 373.0 L416.5 375.4 L417.4 377.6 L418.1 380.0 L418.3 382.4 L418.0 384.9 L417.5 387.3 L417.1 389.7 L416.6 392.1 L415.7 394.5 L414.5 396.7 L413.2 398.9 L412.3 401.3 L412.2 403.9 L412.7 406.6 L413.3 409.4 L413.3 412.1 L412.8 414.4 L412.4 416.0 M363.9 320.0 L364.0 321.4 L364.3 323.2 L364.9 325.2 L365.8 327.2 L366.6 329.1 L367.3 330.9 L367.9 332.7 L368.7 334.4 L369.6 336.1 L370.6 337.8 L371.6 339.4 L372.4 341.2 L372.9 343.1 L372.9 345.1 L372.6 347.0 L372.0 348.9 L371.6 350.9 L371.6 352.9 L371.7 354.7 L371.8 356.0 M436.3 320.1 L436.2 321.4 L436.0 323.3 L435.3 325.3 L434.3 327.3 L433.2 329.1 L432.4 330.8 L431.7 332.6 L431.0 334.3 L430.2 336.1 L429.4 337.8 L428.5 339.5 L427.8 341.3 L427.3 343.2 L427.3 345.2 L427.6 347.1 L428.1 348.9 L428.4 350.9 L428.4 352.9 L428.2 354.7 L428.0 356.0 M350.9 334.7 L351.2 335.7 L351.7 337.2 L352.3 338.8 L353.2 340.3 L354.2 341.6 L355.4 342.7 L356.7 343.9 L357.9 345.1 L358.9 346.2 L359.6 346.9 M449.1 334.7 L448.2 335.3 L447.1 336.3 L446.1 337.6 L445.2 339.1 L444.6 340.7 L443.9 342.2 L443.1 343.8 L442.3 345.2 L441.4 346.4 L440.8 347.3 M290.2 403.6 L290.4 404.9 L290.6 406.7 L290.8 408.9 L291.1 411.2 L291.6 413.1 L292.1 415.0 L292.7 416.8 L293.3 418.6 L293.8 420.4 L294.4 422.2 L295.4 424.0 L296.7 425.9 L297.9 427.7 L298.8 429.4 L299.2 430.6 M511.3 404.1 L510.8 405.3 L510.0 406.9 L508.8 408.8 L507.7 410.7 L506.9 412.6 L506.5 414.5 L506.5 416.5 L506.6 418.5 L506.5 420.5 L506.1 422.4 L505.3 424.3 L504.1 426.2 L503.0 428.0 L502.1 429.7 L501.6 430.9 M280.2 419.4 L281.1 418.9 L282.2 418.1 L283.4 417.2 L284.7 416.2 L286.0 415.6 L287.4 415.4 L289.1 415.5 L290.5 416.0 L291.7 416.6 L292.4 417.1 M519.9 419.1 L519.2 418.5 L518.1 417.6 L516.8 416.7 L515.4 416.0 L514.0 415.6 L512.6 415.6 L511.1 416.0 L509.7 416.4 L508.5 416.9 L507.7 417.3 M270.2 545.7 L271.5 546.3 L273.3 547.0 L275.4 547.9 L277.6 548.9 L279.7 550.0 L281.8 550.7 L284.2 551.0 L286.5 550.6 L288.8 549.7 L291.0 548.7 L293.3 548.1 L295.6 548.0 L298.0 548.2 L300.3 548.3 L302.5 548.2 L304.6 548.0 L306.5 547.8 L308.4 547.6 L310.4 547.4 L312.4 547.0 L314.5 546.1 L316.6 544.7 L318.7 543.2 L321.0 542.2 L323.5 542.1 L325.9 542.7 L328.3 543.5 L330.6 544.0 L332.9 544.0 L335.1 543.5 L336.9 542.9 L338.6 542.2 L340.2 541.5 L341.6 540.6 L342.9 539.5 L344.2 538.1 L345.4 536.4 L346.8 534.9 L348.2 533.7 L349.4 533.0 M530.2 546.8 L529.1 547.7 L527.3 548.6 L525.1 549.2 L522.6 549.3 L520.2 549.3 L518.0 549.3 L515.8 549.3 L513.5 549.3 L511.2 549.1 L508.9 548.9 L506.6 548.9 L504.2 549.1 L501.8 549.5 L499.5 549.5 L497.3 549.0 L495.4 548.1 L493.6 547.1 L491.8 546.2 L490.0 545.6 L488.0 545.3 L485.7 545.1 L483.4 544.8 L481.0 544.2 L478.6 543.7 L476.3 543.4 L474.1 543.6 L471.7 543.8 L469.4 543.7 L467.1 543.1 L465.1 542.2 L463.4 541.4 L461.9 540.9 L460.3 540.5 L458.6 540.2 L456.8 539.8 L455.0 539.0 L453.3 537.6 L451.9 536.0 L450.8 534.6 L450.1 533.6 M274.7 558.2 L276.2 557.7 L278.5 557.5 L281.2 557.7 L283.9 558.0 L286.2 558.1 L288.2 558.5 L290.1 559.1 L292.0 560.0 L293.9 560.8 L295.9 561.3 L298.0 561.3 L300.1 560.9 L302.2 560.6 L304.3 560.8 L306.1 561.6 L307.5 562.8 L308.6 564.3 L309.5 565.7 L310.4 567.0 L311.5 568.1 L312.7 569.2 L313.9 570.2 L315.1 571.4 L316.2 572.6 L317.2 573.8 L318.0 575.2 L318.6 576.6 L319.3 578.0 L320.1 579.1 L320.9 579.8 L321.9 580.3 L322.9 580.7 L324.1 581.1 L325.5 581.5 L326.9 582.0 L328.5 582.4 L330.3 582.6 L332.1 582.5 L333.7 581.9 L335.2 581.2 L336.6 580.3 L338.0 579.5 L339.3 578.7 L340.4 578.2 L341.3 578.0 M525.1 559.3 L523.6 558.8 L521.4 557.9 L518.9 557.0 L516.2 556.7 L513.7 557.3 L511.8 558.4 L510.1 559.7 L508.3 560.6 L506.3 561.2 L504.1 561.3 L502.0 561.1 L499.9 561.0 L497.8 561.1 L495.9 561.5 L494.1 562.0 L492.5 562.8 L491.0 563.7 L489.8 564.8 L488.7 566.1 L487.8 567.5 L487.1 568.9 L486.4 570.5 L485.6 571.9 L484.7 573.2 L483.6 574.3 L482.5 575.4 L481.4 576.6 L480.4 577.9 L479.6 578.8 L478.9 579.6 L478.1 580.2 L477.1 580.8 L475.9 581.3 L474.5 581.7 L473.1 582.0 L471.5 582.0 L469.8 581.8 L468.1 581.5 L466.4 581.2 L464.9 581.0 L463.3 580.8 L461.8 580.5 L460.4 580.0 L459.2 579.5 L458.4 579.0 M334.2 546.5 L334.3 547.9 L334.9 549.8 L336.1 551.9 L337.5 553.9 L338.6 555.9 L339.4 557.8 L340.1 559.8 L340.7 561.8 L341.4 563.7 L342.0 565.6 L342.6 567.4 L342.9 569.2 L343.1 571.0 L343.3 572.7 L343.7 574.4 L344.2 575.8 L344.9 577.1 L345.8 578.3 L347.0 579.3 L348.3 580.2 L349.6 580.9 L350.9 581.7 L352.1 582.6 L353.4 583.7 L354.7 584.8 L356.3 585.9 L358.1 586.9 L360.1 587.6 L362.2 588.3 L364.1 589.1 L366.0 589.7 L368.0 590.1 L370.0 590.1 L372.0 589.9 L374.1 589.5 L376.1 589.3 L378.1 589.4 L380.0 590.0 L381.9 591.0 L383.7 592.1 L385.6 593.1 L387.9 593.9 L390.1 594.4 L392.0 594.9 L393.4 595.3 M465.0 546.2 L464.3 547.5 L463.5 549.3 L462.7 551.5 L462.0 553.7 L461.2 555.8 L460.5 557.8 L460.1 559.9 L459.9 562.0 L459.8 564.1 L459.6 566.1 L459.0 567.9 L458.1 569.5 L456.9 571.0 L455.7 572.3 L454.6 573.6 L453.7 575.0 L453.2 576.3 L452.8 577.6 L452.3 578.9 L451.7 580.2 L450.9 581.4 L449.8 582.5 L448.5 583.6 L447.2 584.6 L445.7 585.6 L444.0 586.6 L442.1 587.6 L440.1 588.2 L437.9 588.4 L435.7 588.3 L433.6 588.1 L431.7 588.0 L429.7 588.4 L427.8 589.1 L426.0 590.0 L424.1 590.9 L422.2 591.4 L420.3 591.7 L418.3 591.9 L416.4 592.2 L414.3 592.7 L412.0 593.3 L409.7 593.8 L407.7 594.0 L406.2 594.2 M339.9 547.9 L341.2 548.5 L343.1 549.4 L345.1 550.6 L346.7 552.3 L348.1 554.2 L349.6 556.0 L351.4 557.4 L353.4 558.3 L355.5 559.0 L357.6 559.5 L359.7 560.1 L361.6 560.6 L363.7 561.0 L365.7 561.3 L367.8 561.7 L369.9 562.5 L371.8 563.6 L373.4 565.3 L375.0 567.0 L376.7 568.5 L378.7 569.5 L380.9 570.0 L383.2 570.4 L385.4 570.9 L387.3 571.6 L389.1 572.5 L390.9 573.3 L392.7 574.1 L394.2 574.6 L395.3 575.1 M460.6 548.5 L459.7 549.5 L458.1 550.8 L456.1 552.0 L454.0 553.3 L452.0 554.4 L450.1 555.4 L448.1 556.2 L445.9 556.8 L443.8 557.5 L441.9 558.4 L440.2 559.6 L438.5 560.9 L436.7 562.1 L434.9 563.0 L432.9 563.5 L430.8 563.8 L428.5 564.2 L426.4 564.8 L424.4 565.8 L422.5 566.9 L420.6 568.0 L418.6 569.0 L416.6 570.1 L414.8 571.3 L413.2 572.6 L411.5 573.9 L409.7 574.9 L407.9 575.5 L406.2 575.7 L405.0 575.7 M354.4 538.2 L356.0 538.8 L358.2 539.6 L360.5 540.9 L362.4 542.7 L364.2 544.7 L366.2 546.2 L368.4 547.1 L370.8 547.4 L373.2 547.5 L375.6 547.9 L377.9 548.7 L380.4 549.5 L382.8 550.3 L385.2 551.0 L387.3 552.0 L389.3 553.4 L391.3 554.9 L393.3 556.2 L395.1 556.8 L396.4 557.0 M445.3 537.9 L444.3 539.2 L442.9 541.1 L441.0 543.0 L438.4 544.2 L435.8 544.6 L433.4 544.8 L431.1 545.1 L428.8 545.8 L426.6 546.8 L424.4 547.8 L422.1 548.8 L419.9 550.0 L417.7 551.4 L415.5 552.7 L413.3 553.6 L410.9 553.9 L408.4 553.8 L406.0 553.9 L404.2 554.4 L402.9 554.9 M294.2 579.0 L294.9 580.5 L296.3 582.3 L298.3 584.0 L300.5 585.6 L302.5 586.9 L304.1 588.0 L305.7 589.0 L307.3 589.7 L309.1 590.3 L310.9 590.9 L313.0 591.7 L315.1 592.9 L317.3 594.4 L319.5 595.6 L321.7 596.2 L323.9 596.2 L326.0 595.9 L328.0 595.6 L329.9 595.6 L331.9 595.8 L333.8 596.3 L335.8 596.7 L337.8 597.1 L339.7 597.5 L341.5 598.1 L343.3 599.0 L345.0 600.2 L346.6 601.3 L348.1 602.1 L349.2 602.5 M505.3 578.4 L504.2 579.7 L502.7 581.4 L501.1 583.5 L499.6 585.7 L498.2 587.7 L496.6 589.0 L494.9 589.9 L493.0 590.4 L491.1 590.6 L489.0 590.8 L486.9 591.4 L484.8 592.4 L482.5 593.7 L480.3 594.8 L478.1 595.5 L476.0 595.9 L474.1 596.3 L472.2 596.6 L470.3 597.0 L468.3 597.1 L466.3 597.1 L464.2 596.8 L462.1 596.5 L460.1 596.6 L458.2 597.2 L456.4 598.3 L454.8 599.7 L453.3 601.0 L451.9 602.0 L450.8 602.4 M305.3 595.7 L306.5 596.8 L308.4 598.0 L310.9 599.1 L313.4 600.2 L315.6 601.4 L317.6 602.4 L319.6 603.2 L321.7 603.9 L323.7 604.7 L325.5 605.8 L327.2 607.1 L328.9 608.5 L330.8 609.6 L332.7 610.3 L334.8 610.5 L336.9 610.4 L339.1 610.2 L341.2 610.3 L343.1 610.5 L344.7 610.6 L346.2 610.4 L347.7 609.8 L349.1 609.0 L350.3 608.3 L351.2 607.8 M493.9 594.4 L492.9 595.8 L491.4 597.8 L489.5 599.6 L487.1 600.9 L484.7 601.8 L482.5 602.6 L480.5 603.5 L478.5 604.4 L476.5 605.1 L474.5 605.7 L472.5 606.4 L470.6 607.2 L468.8 608.3 L467.1 609.6 L465.3 610.7 L463.3 611.4 L461.2 611.6 L459.0 611.3 L457.0 610.9 L455.3 610.5 L453.9 610.1 L452.5 609.5 L451.1 608.8 L449.8 608.1 L449.0 607.7 M351.7 594.5 L352.8 595.2 L354.1 596.4 L355.3 598.0 L356.5 599.8 L357.8 601.5 L359.4 602.8 L361.2 604.0 L363.3 605.0 L365.3 606.1 L367.2 607.1 L369.2 607.8 L371.3 608.2 L373.4 608.3 L375.5 608.2 L377.5 608.4 L379.4 608.9 L381.3 609.7 L383.2 610.7 L385.1 611.6 L386.8 612.2 L388.7 612.5 L390.6 612.7 L392.4 612.8 L394.0 613.0 L395.1 613.1 M448.7 594.9 L448.2 596.2 L447.5 597.8 L446.2 599.5 L444.5 600.9 L442.5 601.9 L440.5 602.6 L438.4 603.4 L436.4 604.3 L434.3 605.1 L432.3 605.9 L430.3 606.5 L428.4 607.2 L426.5 608.2 L424.8 609.3 L423.0 610.4 L421.0 611.3 L419.0 611.5 L416.9 611.3 L414.8 610.9 L412.9 610.6 L411.0 610.7 L409.1 611.1 L407.3 611.7 L405.9 612.3 L404.8 612.7 M302.8 529.8 L303.7 530.5 L304.8 531.6 L305.9 533.0 L306.8 534.6 L307.7 536.1 L309.0 537.6 L310.7 539.0 L312.5 540.1 L314.2 541.1 L315.3 541.8 M497.1 529.7 L496.7 530.8 L496.2 532.3 L495.6 534.1 L494.8 536.0 L493.4 537.4 L491.6 538.4 L489.3 539.0 L487.0 539.4 L485.2 539.9 L484.0 540.5 M362.2 535.4 L363.9 535.7 L366.2 536.4 L368.8 537.6 L371.5 538.8 L374.0 540.0 L376.3 541.4 L378.6 543.0 L381.0 544.4 L383.6 545.3 L386.2 545.7 L388.6 546.4 L390.6 547.7 L392.1 549.3 L393.2 550.9 L394.0 552.0 M438.3 537.0 L436.8 537.7 L434.4 538.2 L431.4 538.2 L428.4 538.4 L425.7 539.3 L423.3 540.5 L420.9 541.9 L418.4 543.3 L416.2 544.8 L414.3 546.5 L412.6 548.1 L410.8 549.6 L408.9 550.6 L407.0 551.2 L405.7 551.6 M357.6 410.6 L359.2 411.7 L361.8 412.9 L365.0 413.8 L368.1 415.2 L370.4 417.4 L372.3 419.9 L374.6 422.0 L377.1 423.4 L379.7 424.7 L381.9 426.1 L383.8 427.6 L385.5 428.9 L387.2 430.2 L388.7 431.7 L389.9 433.5 L390.6 435.7 L390.6 438.0 L390.4 440.3 L390.4 442.7 L391.0 445.1 L392.0 447.7 L392.9 450.4 L393.3 453.4 L393.4 456.6 L393.5 460.0 L393.5 463.7 L392.7 467.7 L392.4 471.8 L393.7 475.9 L395.1 479.9 L394.9 484.3 L394.3 489.0 L394.3 493.5 L394.1 497.3 L394.2 500.0 M442.3 410.4 L441.0 412.0 L438.7 413.6 L435.6 414.8 L432.4 415.9 L429.6 417.4 L427.2 419.1 L424.7 420.8 L422.2 422.5 L420.1 424.5 L418.5 426.6 L417.0 428.4 L415.4 429.8 L413.7 430.9 L411.9 432.1 L410.2 433.6 L409.0 435.5 L408.5 437.7 L408.4 440.1 L408.4 442.5 L408.3 445.0 L408.1 447.7 L408.0 450.5 L408.1 453.5 L407.6 456.6 L406.4 460.0 L405.5 463.6 L406.1 467.6 L407.2 471.8 L407.0 476.0 L406.3 480.0 L405.8 484.3 L404.8 488.9 L404.4 493.4 L405.4 497.3 L406.1 500.1 M347.7 491.5 L349.4 490.7 L351.7 489.5 L354.4 488.2 L357.5 487.3 L360.3 486.8 L362.8 486.1 L365.0 484.8 L367.1 483.1 L369.3 481.6 L371.9 480.9 L374.7 481.1 L377.7 482.0 L380.5 482.7 L383.3 483.5 L385.8 484.5 L388.0 486.0 L390.4 487.6 L393.0 489.0 L395.3 490.1 L396.8 491.1 M452.3 491.5 L450.7 490.6 L448.3 489.5 L445.6 488.1 L442.8 486.8 L440.0 486.1 L437.3 485.7 L434.8 485.1 L432.6 484.0 L430.5 482.5 L428.1 481.2 L425.2 480.8 L422.3 481.3 L419.4 482.4 L416.6 483.3 L414.1 484.3 L411.9 485.8 L409.7 487.8 L407.5 489.5 L405.3 490.8 L403.6 491.5 M358.3 397.5 L359.9 398.0 L361.9 398.9 L364.0 400.5 L365.8 402.8 L367.6 404.7 L369.5 406.1 L371.7 407.0 L374.0 407.8 L376.1 408.6 L378.1 409.8 L380.1 411.4 L382.1 413.0 L384.1 414.7 L385.5 416.3 L386.4 417.6 M441.5 397.2 L440.2 398.2 L438.5 399.6 L436.4 401.3 L434.2 402.8 L432.2 404.3 L430.3 405.7 L428.4 407.1 L426.3 408.2 L424.0 408.9 L421.7 409.6 L419.3 410.7 L417.4 412.6 L416.2 414.9 L415.2 417.0 L414.4 418.4"/></g>
<g clip-path="url(#bc)" fill="none" stroke="#FDF1F5"><path d="M398.9 323.5 L398.9 323.3 L398.8 323.0 L398.7 322.7 L398.6 322.3 L398.5 322.0 L398.3 321.7 L398.1 321.4 L397.8 321.1 L397.4 320.9 L397.0 320.7 L396.5 320.6 L396.0 320.4 L395.4 320.2 L394.9 319.8 L394.3 319.2 L393.7 318.5 L393.1 317.8 L392.5 317.1 L391.8 316.4 L391.0 315.9 L390.1 315.5 L389.1 315.1 L388.1 314.8 L387.0 314.5 L385.8 314.3 L384.7 314.1 L383.4 313.9 L382.2 313.8 L380.9 313.7 L379.7 313.7 L378.4 313.7 L377.1 313.8 L375.7 313.8 L374.3 314.0 L372.9 314.1 L371.5 314.3 L370.1 314.5 L368.7 314.8 L367.2 315.2 L365.8 315.5 L364.3 316.0 L362.8 316.5 L361.3 317.2 L359.8 317.9 L358.3 318.6 L356.8 319.2 L355.3 319.8 L353.8 320.2 L352.4 320.5 L351.0 320.6 L349.6 320.8 L348.2 321.0 L346.8 321.3 L345.4 321.8 L344.1 322.3 L342.8 322.9 L341.5 323.6 L340.2 324.4 L338.9 325.4 L337.7 326.6 L336.5 327.8 L335.3 328.8 L334.0 329.4 L332.7 329.7 L331.4 330.0 L330.2 330.5 L328.9 331.3 L327.7 332.2 L326.5 333.2 L325.2 334.2 L323.9 335.3 L322.7 336.8 L321.5 338.7 L320.3 340.6 L318.8 341.4 L317.2 341.9 L315.8 342.7 L314.5 343.8 L313.4 344.9 L312.4 346.0 L311.5 347.0 L310.7 348.1 L310.1 349.4 L309.6 350.8 L309.2 352.0 L308.6 352.9 L308.0 353.4 L307.3 353.7 L306.6 354.0 L306.0 354.6 L305.6 355.2 L305.2 356.0 L304.8 356.7 L304.5 357.4 L304.3 358.2 L304.0 358.9 L303.8 359.6 L303.5 360.4 L303.3 361.1 L303.1 361.9 L302.9 362.9 L302.8 364.0 L302.7 365.3 L302.8 366.7 L302.6 367.7 L302.2 368.3 L301.7 368.6 L301.3 369.0 L300.9 369.7 L300.6 370.4 L300.4 371.2 L300.1 372.0 L299.9 372.8 L299.7 373.5 L299.4 374.3 L299.2 375.1 L298.9 375.9 L298.7 376.7 L298.4 377.5 L298.2 378.3 L297.9 379.2 L297.7 380.2 L297.5 381.2 L297.4 382.6 L297.5 384.0 L297.4 385.3 L297.0 386.0 L296.4 386.5 L295.8 386.9 L295.4 387.4 L295.1 388.1 L294.9 388.8 L294.7 389.6 L294.5 390.3 L294.4 391.0 L294.2 391.7 L294.0 392.3 L293.8 393.0 L293.6 393.6 L293.3 394.2 L293.0 394.8 L292.7 395.4 L292.3 396.0 L292.0 396.6 L291.6 397.1 L291.2 397.7 L290.9 398.4 L290.7 399.1 L290.5 399.8 L290.3 400.6 L290.1 401.3 L289.8 401.9 L289.4 402.4 L288.8 402.8 L288.2 403.1 L287.5 403.3 L286.8 403.6 L286.2 403.9 L285.6 404.2 L285.1 404.7 L284.7 405.2 L284.3 405.8 L283.9 406.4 L283.5 407.0 L283.2 407.6 L282.8 408.3 L282.5 408.9 L282.2 409.6 L281.9 410.3 L281.6 411.0 L281.4 411.8 L281.2 412.6 L281.2 413.5 L281.4 414.6 L281.6 415.7 L281.8 416.7 L281.6 417.5 L281.0 418.0 L280.4 418.5 L279.9 419.1 L279.6 419.8 L279.4 420.5 L279.3 421.3 L279.2 422.0 L279.1 422.8 L278.9 423.6 L278.8 424.4 L278.7 425.2 L278.5 426.0 L278.3 426.8 L278.0 427.7 L277.8 428.6 L277.8 429.6 L277.9 430.7 L278.1 431.8 L278.0 432.8 L277.3 433.6 L276.4 434.2 L275.6 434.9 L275.0 435.7 L274.5 436.6 L274.1 437.6 L273.7 438.5 L273.3 439.5 L272.9 440.5 L272.5 441.5 L272.1 442.5 L271.8 443.5 L271.7 444.6 L272.0 445.8 L272.2 446.9 L271.9 447.9 L271.1 448.7 L270.1 449.6 L269.5 450.5 L269.1 451.4 L268.8 452.4 L268.5 453.4 L268.2 454.3 L268.0 455.3 L267.7 456.2 L267.5 457.1 L267.3 458.0 L267.1 458.8 L267.1 459.7 L267.2 460.6 L267.6 461.5 L268.0 462.4 L268.0 463.3 L267.4 464.2 L266.6 465.1 L265.9 466.0 L265.6 467.0 L265.3 467.9 L265.2 468.9 L265.0 469.9 L264.9 470.9 L264.7 471.9 L264.6 472.9 L264.5 473.9 L264.4 475.0 L264.3 476.0 L264.3 477.1 L264.3 478.1 L264.5 479.2 L265.1 480.2 L265.7 481.2 L265.7 482.3 L265.0 483.5 L264.4 484.7 L264.0 485.9 L263.9 487.0 L263.9 488.2 L263.9 489.3 L263.9 490.5 L263.9 491.7 L263.9 492.9 L263.9 494.1 L263.9 495.3 L264.1 496.5 L264.5 497.6 L265.3 498.6 L265.6 499.8 L264.8 501.3 L264.1 502.9 L263.9 504.3 L263.8 505.6 L263.8 506.9 L263.8 508.1 L263.8 509.3 L263.9 510.5 L263.9 511.6 L263.9 512.7 L264.0 513.8 L264.2 514.8 L264.6 515.6 L265.3 516.3 L265.7 517.2 L265.4 518.4 L264.8 519.9 L264.6 521.2 L264.6 522.4 L264.7 523.5 L264.9 524.7 L265.0 525.8 L265.2 526.9 L265.5 528.1 L265.7 529.2 L265.9 530.4 L266.2 531.6 L266.6 532.7 L267.4 533.5 L268.4 534.3 L268.8 535.4 L268.5 537.1 L268.3 538.8 L268.5 540.2 L268.8 541.5 L269.2 542.7 L269.6 543.9 L269.9 545.2 L270.3 546.4 L270.7 547.7 L271.2 548.9 L271.8 550.0 L272.7 550.7 L273.6 551.4 L273.8 552.7 L273.7 554.2 L273.7 555.6 L273.9 556.7 L274.1 557.6 L274.4 558.3 L274.6 559.1 L274.9 559.7 L275.2 560.4 L275.4 561.0 L275.7 561.6 L276.0 562.2 L276.4 562.8 L276.8 563.4 L277.1 564.0 L277.5 564.5 L277.9 565.1 L278.4 565.6 L278.8 566.1 L279.4 566.5 L280.0 566.9 L280.6 567.2 L281.4 567.5 L282.2 567.7 L283.0 568.0 L283.8 568.4 L284.4 569.0 L285.0 569.7 L285.5 570.6 L286.1 571.4 L286.6 572.2 L287.2 572.9 L287.8 573.6 L288.4 574.2 L289.0 574.7 L289.7 575.2 L290.3 575.7 L290.9 576.3 L291.5 576.8 L292.1 577.3 L292.7 577.9 L293.3 578.5 L293.9 579.1 L294.4 579.8 L295.0 580.6 L295.5 581.4 L296.1 582.1 L296.7 582.8 L297.4 583.2 L298.1 583.6 L298.8 584.0 L299.3 584.8 L299.7 585.8 L299.9 587.0 L300.2 588.1 L300.6 589.1 L301.0 589.9 L301.4 590.6 L301.9 591.3 L302.4 592.0 L303.0 592.7 L303.6 593.4 L304.2 594.1 L304.9 594.8 L305.7 595.4 L306.4 596.1 L307.3 596.6 L308.2 597.1 L309.2 597.4 L310.2 597.6 L311.3 598.0 L312.3 598.7 L313.3 599.7 L314.3 600.8 L315.5 602.0 L316.7 603.0 L318.1 603.8 L319.6 604.6 L321.0 605.3 L322.5 606.0 L324.0 606.7 L325.4 607.4 L326.7 607.9 L328.0 608.4 L329.3 608.8 L330.6 609.1 L331.8 609.3 L333.1 609.5 L334.3 609.7 L335.5 610.1 L336.6 610.6 L337.8 611.2 L339.0 612.0 L340.1 612.7 L341.3 613.3 L342.4 613.9 L343.6 614.4 L344.8 614.9 L346.0 615.3 L347.2 615.7 L348.4 616.1 L349.7 616.5 L350.9 616.9 L352.3 617.3 L353.6 617.7 L355.0 618.0 L356.4 618.2 L357.7 618.4 L359.2 620.0 L360.6 620.5 L362.0 621.1 L363.4 621.5 L364.8 622.0 L366.2 622.5 L367.7 622.9 L369.1 623.4 L370.6 623.9 L372.1 624.3 L373.5 624.7 L374.9 625.1 L376.2 625.5 L377.5 625.8 L378.7 626.0 L379.8 626.2 L380.8 626.4 L381.8 626.6 L382.8 626.7 L383.7 626.8 L384.6 626.8 L385.4 626.8 L386.2 626.8 L386.9 626.7 L387.6 626.6 L388.3 626.3 L388.9 626.0 L389.5 625.6 L390.1 625.1 L390.6 624.6 L391.1 624.1 L391.6 623.6 L391.9 623.2 L392.3 622.8 L392.6 622.6 L392.9 620.9 L392.8 618.8 L392.7 616.2 L392.6 613.5 L392.5 610.7 L392.5 608.0 L392.6 605.4 L392.7 602.8 L392.8 600.2 L393.0 597.5 L393.2 594.7 L393.5 592.0 L393.8 589.3 L394.3 586.7 L394.7 584.1 L395.2 581.3 L395.6 578.3 L396.0 575.0 L396.3 571.4 L396.6 567.4 L396.9 563.3 L397.2 559.0 L397.4 554.5 L397.5 550.0 L397.5 545.3 L397.5 540.4 L397.4 535.3 L397.3 530.2 L397.2 525.1 L397.0 520.0 L396.8 515.0 L396.6 510.0 L396.3 505.0 L396.0 500.0 L395.8 495.0 L395.5 490.0 L395.2 484.9 L395.0 479.8 L394.7 474.7 L394.5 469.6 L394.2 464.7 L394.0 460.0 L393.8 455.5 L393.6 451.1 L393.4 446.9 L393.2 442.8 L393.1 438.8 L393.0 435.0 L393.0 431.4 L393.0 428.0 L393.1 424.7 L393.2 421.5 L393.3 418.3 L393.5 415.0 L393.7 411.7 L393.9 408.5 L394.2 405.3 L394.5 402.0 L394.8 398.6 L395.0 395.0 L395.2 391.1 L395.4 387.0 L395.6 382.8 L395.7 378.5 L395.9 374.2 L396.0 370.0 L396.1 365.7 L396.2 361.3 L396.2 356.8 L396.3 352.5 L396.4 348.5 L396.5 345.0 L396.6 342.0 L396.8 339.3 L396.9 337.0 L397.1 334.9 L397.3 332.9 L397.5 331.0 L397.8 329.2 L398.2 327.4 L398.6 325.9 L398.9 324.5 L399.3 323.4Z" stroke-width="12" stroke-dasharray="0.9 1.8" opacity="0.45"/><path d="M401.1 323.5 L401.1 323.3 L401.2 323.0 L401.3 322.7 L401.4 322.3 L401.5 322.0 L401.7 321.7 L401.9 321.4 L402.2 321.1 L402.6 320.9 L403.0 320.7 L403.5 320.6 L404.0 320.4 L404.6 320.2 L405.1 319.8 L405.7 319.2 L406.3 318.5 L406.9 317.8 L407.5 317.1 L408.2 316.4 L409.0 315.9 L409.9 315.5 L410.9 315.1 L411.9 314.8 L413.0 314.5 L414.2 314.3 L415.3 314.1 L416.6 313.9 L417.8 313.8 L419.1 313.7 L420.3 313.7 L421.6 313.7 L422.9 313.8 L424.3 313.8 L425.7 314.0 L427.1 314.1 L428.5 314.3 L429.9 314.5 L431.3 314.8 L432.8 315.2 L434.2 315.5 L435.7 316.0 L437.2 316.5 L438.7 317.2 L440.2 317.9 L441.7 318.6 L443.2 319.2 L444.7 319.8 L446.2 320.2 L447.6 320.5 L449.0 320.6 L450.4 320.8 L451.8 321.0 L453.2 321.3 L454.6 321.8 L455.9 322.3 L457.2 322.9 L458.5 323.6 L459.8 324.4 L461.1 325.4 L462.3 326.6 L463.5 327.8 L464.7 328.8 L466.0 329.4 L467.3 329.7 L468.6 330.0 L469.8 330.5 L471.1 331.3 L472.3 332.2 L473.5 333.2 L474.8 334.2 L476.1 335.3 L477.3 336.8 L478.5 338.7 L479.7 340.6 L481.2 341.4 L482.8 341.9 L484.2 342.7 L485.5 343.8 L486.6 344.9 L487.6 346.0 L488.5 347.0 L489.3 348.1 L489.9 349.4 L490.4 350.8 L490.8 352.0 L491.4 352.9 L492.0 353.4 L492.7 353.7 L493.4 354.0 L494.0 354.6 L494.4 355.2 L494.8 356.0 L495.2 356.7 L495.5 357.4 L495.7 358.2 L496.0 358.9 L496.2 359.6 L496.5 360.4 L496.7 361.1 L496.9 361.9 L497.1 362.9 L497.2 364.0 L497.3 365.3 L497.2 366.7 L497.4 367.7 L497.8 368.3 L498.3 368.6 L498.7 369.0 L499.1 369.7 L499.4 370.4 L499.6 371.2 L499.9 372.0 L500.1 372.8 L500.3 373.5 L500.6 374.3 L500.8 375.1 L501.1 375.9 L501.3 376.7 L501.6 377.5 L501.8 378.3 L502.1 379.2 L502.3 380.2 L502.5 381.2 L502.6 382.6 L502.5 384.0 L502.6 385.3 L503.0 386.0 L503.6 386.5 L504.2 386.9 L504.6 387.4 L504.9 388.1 L505.1 388.8 L505.3 389.6 L505.5 390.3 L505.6 391.0 L505.8 391.7 L506.0 392.3 L506.2 393.0 L506.4 393.6 L506.7 394.2 L507.0 394.8 L507.3 395.4 L507.7 396.0 L508.0 396.6 L508.4 397.1 L508.8 397.7 L509.1 398.4 L509.3 399.1 L509.5 399.8 L509.7 400.6 L509.9 401.3 L510.2 401.9 L510.6 402.4 L511.2 402.8 L511.8 403.1 L512.5 403.3 L513.2 403.6 L513.8 403.9 L514.4 404.2 L514.9 404.7 L515.3 405.2 L515.7 405.8 L516.1 406.4 L516.5 407.0 L516.8 407.6 L517.2 408.3 L517.5 408.9 L517.8 409.6 L518.1 410.3 L518.4 411.0 L518.6 411.8 L518.8 412.6 L518.8 413.5 L518.6 414.6 L518.4 415.7 L518.2 416.7 L518.4 417.5 L519.0 418.0 L519.6 418.5 L520.1 419.1 L520.4 419.8 L520.6 420.5 L520.7 421.3 L520.8 422.0 L520.9 422.8 L521.1 423.6 L521.2 424.4 L521.3 425.2 L521.5 426.0 L521.7 426.8 L522.0 427.7 L522.2 428.6 L522.2 429.6 L522.1 430.7 L521.9 431.8 L522.0 432.8 L522.7 433.6 L523.6 434.2 L524.4 434.9 L525.0 435.7 L525.5 436.6 L525.9 437.6 L526.3 438.5 L526.7 439.5 L527.1 440.5 L527.5 441.5 L527.9 442.5 L528.2 443.5 L528.3 444.6 L528.0 445.8 L527.8 446.9 L528.1 447.9 L528.9 448.7 L529.9 449.6 L530.5 450.5 L530.9 451.4 L531.2 452.4 L531.5 453.4 L531.8 454.3 L532.0 455.3 L532.3 456.2 L532.5 457.1 L532.7 458.0 L532.9 458.8 L532.9 459.7 L532.8 460.6 L532.4 461.5 L532.0 462.4 L532.0 463.3 L532.6 464.2 L533.4 465.1 L534.1 466.0 L534.4 467.0 L534.7 467.9 L534.8 468.9 L535.0 469.9 L535.1 470.9 L535.3 471.9 L535.4 472.9 L535.5 473.9 L535.6 475.0 L535.7 476.0 L535.7 477.1 L535.7 478.1 L535.5 479.2 L534.9 480.2 L534.3 481.2 L534.3 482.3 L535.0 483.5 L535.6 484.7 L536.0 485.9 L536.1 487.0 L536.1 488.2 L536.1 489.3 L536.1 490.5 L536.1 491.7 L536.1 492.9 L536.1 494.1 L536.1 495.3 L535.9 496.5 L535.5 497.6 L534.7 498.6 L534.4 499.8 L535.2 501.3 L535.9 502.9 L536.1 504.3 L536.2 505.6 L536.2 506.9 L536.2 508.1 L536.2 509.3 L536.1 510.5 L536.1 511.6 L536.1 512.7 L536.0 513.8 L535.8 514.8 L535.4 515.6 L534.7 516.3 L534.3 517.2 L534.6 518.4 L535.2 519.9 L535.4 521.2 L535.4 522.4 L535.3 523.5 L535.1 524.7 L535.0 525.8 L534.8 526.9 L534.5 528.1 L534.3 529.2 L534.1 530.4 L533.8 531.6 L533.4 532.7 L532.6 533.5 L531.6 534.3 L531.2 535.4 L531.5 537.1 L531.7 538.8 L531.5 540.2 L531.2 541.5 L530.8 542.7 L530.4 543.9 L530.1 545.2 L529.7 546.4 L529.3 547.7 L528.8 548.9 L528.2 550.0 L527.3 550.7 L526.4 551.4 L526.2 552.7 L526.3 554.2 L526.3 555.6 L526.1 556.7 L525.9 557.6 L525.6 558.3 L525.4 559.1 L525.1 559.7 L524.8 560.4 L524.6 561.0 L524.3 561.6 L524.0 562.2 L523.6 562.8 L523.2 563.4 L522.9 564.0 L522.5 564.5 L522.1 565.1 L521.6 565.6 L521.2 566.1 L520.6 566.5 L520.0 566.9 L519.4 567.2 L518.6 567.5 L517.8 567.7 L517.0 568.0 L516.2 568.4 L515.6 569.0 L515.0 569.7 L514.5 570.6 L513.9 571.4 L513.4 572.2 L512.8 572.9 L512.2 573.6 L511.6 574.2 L511.0 574.7 L510.3 575.2 L509.7 575.7 L509.1 576.3 L508.5 576.8 L507.9 577.3 L507.3 577.9 L506.7 578.5 L506.1 579.1 L505.6 579.8 L505.0 580.6 L504.5 581.4 L503.9 582.1 L503.3 582.8 L502.6 583.2 L501.9 583.6 L501.2 584.0 L500.7 584.8 L500.3 585.8 L500.1 587.0 L499.8 588.1 L499.4 589.1 L499.0 589.9 L498.6 590.6 L498.1 591.3 L497.6 592.0 L497.0 592.7 L496.4 593.4 L495.8 594.1 L495.1 594.8 L494.3 595.4 L493.6 596.1 L492.7 596.6 L491.8 597.1 L490.8 597.4 L489.8 597.6 L488.7 598.0 L487.7 598.7 L486.7 599.7 L485.7 600.8 L484.5 602.0 L483.3 603.0 L481.9 603.8 L480.4 604.6 L479.0 605.3 L477.5 606.0 L476.0 606.7 L474.6 607.4 L473.3 607.9 L472.0 608.4 L470.7 608.8 L469.4 609.1 L468.2 609.3 L466.9 609.5 L465.7 609.7 L464.5 610.1 L463.4 610.6 L462.2 611.2 L461.0 612.0 L459.9 612.7 L458.7 613.3 L457.6 613.9 L456.4 614.4 L455.2 614.9 L454.0 615.3 L452.8 615.7 L451.6 616.1 L450.3 616.5 L449.1 616.9 L447.7 617.3 L446.4 617.7 L445.0 618.0 L443.6 618.2 L442.3 618.4 L440.8 620.0 L439.4 620.5 L438.0 621.1 L436.6 621.5 L435.2 622.0 L433.8 622.5 L432.3 622.9 L430.9 623.4 L429.4 623.9 L427.9 624.3 L426.5 624.7 L425.1 625.1 L423.8 625.5 L422.5 625.8 L421.3 626.0 L420.2 626.2 L419.2 626.4 L418.2 626.6 L417.2 626.7 L416.3 626.8 L415.4 626.8 L414.6 626.8 L413.8 626.8 L413.1 626.7 L412.4 626.6 L411.7 626.3 L411.1 626.0 L410.5 625.6 L409.9 625.1 L409.4 624.6 L408.9 624.1 L408.4 623.6 L408.1 623.2 L407.7 622.8 L407.4 622.6 L407.1 620.9 L407.2 618.8 L407.3 616.2 L407.4 613.5 L407.5 610.7 L407.5 608.0 L407.4 605.4 L407.3 602.8 L407.2 600.2 L407.0 597.5 L406.8 594.7 L406.5 592.0 L406.2 589.3 L405.7 586.7 L405.3 584.1 L404.8 581.3 L404.4 578.3 L404.0 575.0 L403.7 571.4 L403.4 567.4 L403.1 563.3 L402.8 559.0 L402.6 554.5 L402.5 550.0 L402.5 545.3 L402.5 540.4 L402.6 535.3 L402.7 530.2 L402.8 525.1 L403.0 520.0 L403.2 515.0 L403.4 510.0 L403.7 505.0 L404.0 500.0 L404.2 495.0 L404.5 490.0 L404.8 484.9 L405.0 479.8 L405.3 474.7 L405.5 469.6 L405.8 464.7 L406.0 460.0 L406.2 455.5 L406.4 451.1 L406.6 446.9 L406.8 442.8 L406.9 438.8 L407.0 435.0 L407.0 431.4 L407.0 428.0 L406.9 424.7 L406.8 421.5 L406.7 418.3 L406.5 415.0 L406.3 411.7 L406.1 408.5 L405.8 405.3 L405.5 402.0 L405.2 398.6 L405.0 395.0 L404.8 391.1 L404.6 387.0 L404.4 382.8 L404.3 378.5 L404.1 374.2 L404.0 370.0 L403.9 365.7 L403.8 361.3 L403.8 356.8 L403.7 352.5 L403.6 348.5 L403.5 345.0 L403.4 342.0 L403.2 339.3 L403.1 337.0 L402.9 334.9 L402.7 332.9 L402.5 331.0 L402.2 329.2 L401.8 327.4 L401.4 325.9 L401.1 324.5 L400.7 323.4Z" stroke-width="12" stroke-dasharray="0.9 1.8" opacity="0.45"/></g>
<g fill="none" stroke="#FDF1F5" stroke-width="3" stroke-linejoin="round"><path d="M398.9 323.5 L398.9 323.3 L398.8 323.0 L398.7 322.7 L398.6 322.3 L398.5 322.0 L398.3 321.7 L398.1 321.4 L397.8 321.1 L397.4 320.9 L397.0 320.7 L396.5 320.6 L396.0 320.4 L395.4 320.2 L394.9 319.8 L394.3 319.2 L393.7 318.5 L393.1 317.8 L392.5 317.1 L391.8 316.4 L391.0 315.9 L390.1 315.5 L389.1 315.1 L388.1 314.8 L387.0 314.5 L385.8 314.3 L384.7 314.1 L383.4 313.9 L382.2 313.8 L380.9 313.7 L379.7 313.7 L378.4 313.7 L377.1 313.8 L375.7 313.8 L374.3 314.0 L372.9 314.1 L371.5 314.3 L370.1 314.5 L368.7 314.8 L367.2 315.2 L365.8 315.5 L364.3 316.0 L362.8 316.5 L361.3 317.2 L359.8 317.9 L358.3 318.6 L356.8 319.2 L355.3 319.8 L353.8 320.2 L352.4 320.5 L351.0 320.6 L349.6 320.8 L348.2 321.0 L346.8 321.3 L345.4 321.8 L344.1 322.3 L342.8 322.9 L341.5 323.6 L340.2 324.4 L338.9 325.4 L337.7 326.6 L336.5 327.8 L335.3 328.8 L334.0 329.4 L332.7 329.7 L331.4 330.0 L330.2 330.5 L328.9 331.3 L327.7 332.2 L326.5 333.2 L325.2 334.2 L323.9 335.3 L322.7 336.8 L321.5 338.7 L320.3 340.6 L318.8 341.4 L317.2 341.9 L315.8 342.7 L314.5 343.8 L313.4 344.9 L312.4 346.0 L311.5 347.0 L310.7 348.1 L310.1 349.4 L309.6 350.8 L309.2 352.0 L308.6 352.9 L308.0 353.4 L307.3 353.7 L306.6 354.0 L306.0 354.6 L305.6 355.2 L305.2 356.0 L304.8 356.7 L304.5 357.4 L304.3 358.2 L304.0 358.9 L303.8 359.6 L303.5 360.4 L303.3 361.1 L303.1 361.9 L302.9 362.9 L302.8 364.0 L302.7 365.3 L302.8 366.7 L302.6 367.7 L302.2 368.3 L301.7 368.6 L301.3 369.0 L300.9 369.7 L300.6 370.4 L300.4 371.2 L300.1 372.0 L299.9 372.8 L299.7 373.5 L299.4 374.3 L299.2 375.1 L298.9 375.9 L298.7 376.7 L298.4 377.5 L298.2 378.3 L297.9 379.2 L297.7 380.2 L297.5 381.2 L297.4 382.6 L297.5 384.0 L297.4 385.3 L297.0 386.0 L296.4 386.5 L295.8 386.9 L295.4 387.4 L295.1 388.1 L294.9 388.8 L294.7 389.6 L294.5 390.3 L294.4 391.0 L294.2 391.7 L294.0 392.3 L293.8 393.0 L293.6 393.6 L293.3 394.2 L293.0 394.8 L292.7 395.4 L292.3 396.0 L292.0 396.6 L291.6 397.1 L291.2 397.7 L290.9 398.4 L290.7 399.1 L290.5 399.8 L290.3 400.6 L290.1 401.3 L289.8 401.9 L289.4 402.4 L288.8 402.8 L288.2 403.1 L287.5 403.3 L286.8 403.6 L286.2 403.9 L285.6 404.2 L285.1 404.7 L284.7 405.2 L284.3 405.8 L283.9 406.4 L283.5 407.0 L283.2 407.6 L282.8 408.3 L282.5 408.9 L282.2 409.6 L281.9 410.3 L281.6 411.0 L281.4 411.8 L281.2 412.6 L281.2 413.5 L281.4 414.6 L281.6 415.7 L281.8 416.7 L281.6 417.5 L281.0 418.0 L280.4 418.5 L279.9 419.1 L279.6 419.8 L279.4 420.5 L279.3 421.3 L279.2 422.0 L279.1 422.8 L278.9 423.6 L278.8 424.4 L278.7 425.2 L278.5 426.0 L278.3 426.8 L278.0 427.7 L277.8 428.6 L277.8 429.6 L277.9 430.7 L278.1 431.8 L278.0 432.8 L277.3 433.6 L276.4 434.2 L275.6 434.9 L275.0 435.7 L274.5 436.6 L274.1 437.6 L273.7 438.5 L273.3 439.5 L272.9 440.5 L272.5 441.5 L272.1 442.5 L271.8 443.5 L271.7 444.6 L272.0 445.8 L272.2 446.9 L271.9 447.9 L271.1 448.7 L270.1 449.6 L269.5 450.5 L269.1 451.4 L268.8 452.4 L268.5 453.4 L268.2 454.3 L268.0 455.3 L267.7 456.2 L267.5 457.1 L267.3 458.0 L267.1 458.8 L267.1 459.7 L267.2 460.6 L267.6 461.5 L268.0 462.4 L268.0 463.3 L267.4 464.2 L266.6 465.1 L265.9 466.0 L265.6 467.0 L265.3 467.9 L265.2 468.9 L265.0 469.9 L264.9 470.9 L264.7 471.9 L264.6 472.9 L264.5 473.9 L264.4 475.0 L264.3 476.0 L264.3 477.1 L264.3 478.1 L264.5 479.2 L265.1 480.2 L265.7 481.2 L265.7 482.3 L265.0 483.5 L264.4 484.7 L264.0 485.9 L263.9 487.0 L263.9 488.2 L263.9 489.3 L263.9 490.5 L263.9 491.7 L263.9 492.9 L263.9 494.1 L263.9 495.3 L264.1 496.5 L264.5 497.6 L265.3 498.6 L265.6 499.8 L264.8 501.3 L264.1 502.9 L263.9 504.3 L263.8 505.6 L263.8 506.9 L263.8 508.1 L263.8 509.3 L263.9 510.5 L263.9 511.6 L263.9 512.7 L264.0 513.8 L264.2 514.8 L264.6 515.6 L265.3 516.3 L265.7 517.2 L265.4 518.4 L264.8 519.9 L264.6 521.2 L264.6 522.4 L264.7 523.5 L264.9 524.7 L265.0 525.8 L265.2 526.9 L265.5 528.1 L265.7 529.2 L265.9 530.4 L266.2 531.6 L266.6 532.7 L267.4 533.5 L268.4 534.3 L268.8 535.4 L268.5 537.1 L268.3 538.8 L268.5 540.2 L268.8 541.5 L269.2 542.7 L269.6 543.9 L269.9 545.2 L270.3 546.4 L270.7 547.7 L271.2 548.9 L271.8 550.0 L272.7 550.7 L273.6 551.4 L273.8 552.7 L273.7 554.2 L273.7 555.6 L273.9 556.7 L274.1 557.6 L274.4 558.3 L274.6 559.1 L274.9 559.7 L275.2 560.4 L275.4 561.0 L275.7 561.6 L276.0 562.2 L276.4 562.8 L276.8 563.4 L277.1 564.0 L277.5 564.5 L277.9 565.1 L278.4 565.6 L278.8 566.1 L279.4 566.5 L280.0 566.9 L280.6 567.2 L281.4 567.5 L282.2 567.7 L283.0 568.0 L283.8 568.4 L284.4 569.0 L285.0 569.7 L285.5 570.6 L286.1 571.4 L286.6 572.2 L287.2 572.9 L287.8 573.6 L288.4 574.2 L289.0 574.7 L289.7 575.2 L290.3 575.7 L290.9 576.3 L291.5 576.8 L292.1 577.3 L292.7 577.9 L293.3 578.5 L293.9 579.1 L294.4 579.8 L295.0 580.6 L295.5 581.4 L296.1 582.1 L296.7 582.8 L297.4 583.2 L298.1 583.6 L298.8 584.0 L299.3 584.8 L299.7 585.8 L299.9 587.0 L300.2 588.1 L300.6 589.1 L301.0 589.9 L301.4 590.6 L301.9 591.3 L302.4 592.0 L303.0 592.7 L303.6 593.4 L304.2 594.1 L304.9 594.8 L305.7 595.4 L306.4 596.1 L307.3 596.6 L308.2 597.1 L309.2 597.4 L310.2 597.6 L311.3 598.0 L312.3 598.7 L313.3 599.7 L314.3 600.8 L315.5 602.0 L316.7 603.0 L318.1 603.8 L319.6 604.6 L321.0 605.3 L322.5 606.0 L324.0 606.7 L325.4 607.4 L326.7 607.9 L328.0 608.4 L329.3 608.8 L330.6 609.1 L331.8 609.3 L333.1 609.5 L334.3 609.7 L335.5 610.1 L336.6 610.6 L337.8 611.2 L339.0 612.0 L340.1 612.7 L341.3 613.3 L342.4 613.9 L343.6 614.4 L344.8 614.9 L346.0 615.3 L347.2 615.7 L348.4 616.1 L349.7 616.5 L350.9 616.9 L352.3 617.3 L353.6 617.7 L355.0 618.0 L356.4 618.2 L357.7 618.4 L359.2 620.0 L360.6 620.5 L362.0 621.1 L363.4 621.5 L364.8 622.0 L366.2 622.5 L367.7 622.9 L369.1 623.4 L370.6 623.9 L372.1 624.3 L373.5 624.7 L374.9 625.1 L376.2 625.5 L377.5 625.8 L378.7 626.0 L379.8 626.2 L380.8 626.4 L381.8 626.6 L382.8 626.7 L383.7 626.8 L384.6 626.8 L385.4 626.8 L386.2 626.8 L386.9 626.7 L387.6 626.6 L388.3 626.3 L388.9 626.0 L389.5 625.6 L390.1 625.1 L390.6 624.6 L391.1 624.1 L391.6 623.6 L391.9 623.2 L392.3 622.8 L392.6 622.6 L392.9 620.9 L392.8 618.8 L392.7 616.2 L392.6 613.5 L392.5 610.7 L392.5 608.0 L392.6 605.4 L392.7 602.8 L392.8 600.2 L393.0 597.5 L393.2 594.7 L393.5 592.0 L393.8 589.3 L394.3 586.7 L394.7 584.1 L395.2 581.3 L395.6 578.3 L396.0 575.0 L396.3 571.4 L396.6 567.4 L396.9 563.3 L397.2 559.0 L397.4 554.5 L397.5 550.0 L397.5 545.3 L397.5 540.4 L397.4 535.3 L397.3 530.2 L397.2 525.1 L397.0 520.0 L396.8 515.0 L396.6 510.0 L396.3 505.0 L396.0 500.0 L395.8 495.0 L395.5 490.0 L395.2 484.9 L395.0 479.8 L394.7 474.7 L394.5 469.6 L394.2 464.7 L394.0 460.0 L393.8 455.5 L393.6 451.1 L393.4 446.9 L393.2 442.8 L393.1 438.8 L393.0 435.0 L393.0 431.4 L393.0 428.0 L393.1 424.7 L393.2 421.5 L393.3 418.3 L393.5 415.0 L393.7 411.7 L393.9 408.5 L394.2 405.3 L394.5 402.0 L394.8 398.6 L395.0 395.0 L395.2 391.1 L395.4 387.0 L395.6 382.8 L395.7 378.5 L395.9 374.2 L396.0 370.0 L396.1 365.7 L396.2 361.3 L396.2 356.8 L396.3 352.5 L396.4 348.5 L396.5 345.0 L396.6 342.0 L396.8 339.3 L396.9 337.0 L397.1 334.9 L397.3 332.9 L397.5 331.0 L397.8 329.2 L398.2 327.4 L398.6 325.9 L398.9 324.5 L399.3 323.4Z"/><path d="M401.1 323.5 L401.1 323.3 L401.2 323.0 L401.3 322.7 L401.4 322.3 L401.5 322.0 L401.7 321.7 L401.9 321.4 L402.2 321.1 L402.6 320.9 L403.0 320.7 L403.5 320.6 L404.0 320.4 L404.6 320.2 L405.1 319.8 L405.7 319.2 L406.3 318.5 L406.9 317.8 L407.5 317.1 L408.2 316.4 L409.0 315.9 L409.9 315.5 L410.9 315.1 L411.9 314.8 L413.0 314.5 L414.2 314.3 L415.3 314.1 L416.6 313.9 L417.8 313.8 L419.1 313.7 L420.3 313.7 L421.6 313.7 L422.9 313.8 L424.3 313.8 L425.7 314.0 L427.1 314.1 L428.5 314.3 L429.9 314.5 L431.3 314.8 L432.8 315.2 L434.2 315.5 L435.7 316.0 L437.2 316.5 L438.7 317.2 L440.2 317.9 L441.7 318.6 L443.2 319.2 L444.7 319.8 L446.2 320.2 L447.6 320.5 L449.0 320.6 L450.4 320.8 L451.8 321.0 L453.2 321.3 L454.6 321.8 L455.9 322.3 L457.2 322.9 L458.5 323.6 L459.8 324.4 L461.1 325.4 L462.3 326.6 L463.5 327.8 L464.7 328.8 L466.0 329.4 L467.3 329.7 L468.6 330.0 L469.8 330.5 L471.1 331.3 L472.3 332.2 L473.5 333.2 L474.8 334.2 L476.1 335.3 L477.3 336.8 L478.5 338.7 L479.7 340.6 L481.2 341.4 L482.8 341.9 L484.2 342.7 L485.5 343.8 L486.6 344.9 L487.6 346.0 L488.5 347.0 L489.3 348.1 L489.9 349.4 L490.4 350.8 L490.8 352.0 L491.4 352.9 L492.0 353.4 L492.7 353.7 L493.4 354.0 L494.0 354.6 L494.4 355.2 L494.8 356.0 L495.2 356.7 L495.5 357.4 L495.7 358.2 L496.0 358.9 L496.2 359.6 L496.5 360.4 L496.7 361.1 L496.9 361.9 L497.1 362.9 L497.2 364.0 L497.3 365.3 L497.2 366.7 L497.4 367.7 L497.8 368.3 L498.3 368.6 L498.7 369.0 L499.1 369.7 L499.4 370.4 L499.6 371.2 L499.9 372.0 L500.1 372.8 L500.3 373.5 L500.6 374.3 L500.8 375.1 L501.1 375.9 L501.3 376.7 L501.6 377.5 L501.8 378.3 L502.1 379.2 L502.3 380.2 L502.5 381.2 L502.6 382.6 L502.5 384.0 L502.6 385.3 L503.0 386.0 L503.6 386.5 L504.2 386.9 L504.6 387.4 L504.9 388.1 L505.1 388.8 L505.3 389.6 L505.5 390.3 L505.6 391.0 L505.8 391.7 L506.0 392.3 L506.2 393.0 L506.4 393.6 L506.7 394.2 L507.0 394.8 L507.3 395.4 L507.7 396.0 L508.0 396.6 L508.4 397.1 L508.8 397.7 L509.1 398.4 L509.3 399.1 L509.5 399.8 L509.7 400.6 L509.9 401.3 L510.2 401.9 L510.6 402.4 L511.2 402.8 L511.8 403.1 L512.5 403.3 L513.2 403.6 L513.8 403.9 L514.4 404.2 L514.9 404.7 L515.3 405.2 L515.7 405.8 L516.1 406.4 L516.5 407.0 L516.8 407.6 L517.2 408.3 L517.5 408.9 L517.8 409.6 L518.1 410.3 L518.4 411.0 L518.6 411.8 L518.8 412.6 L518.8 413.5 L518.6 414.6 L518.4 415.7 L518.2 416.7 L518.4 417.5 L519.0 418.0 L519.6 418.5 L520.1 419.1 L520.4 419.8 L520.6 420.5 L520.7 421.3 L520.8 422.0 L520.9 422.8 L521.1 423.6 L521.2 424.4 L521.3 425.2 L521.5 426.0 L521.7 426.8 L522.0 427.7 L522.2 428.6 L522.2 429.6 L522.1 430.7 L521.9 431.8 L522.0 432.8 L522.7 433.6 L523.6 434.2 L524.4 434.9 L525.0 435.7 L525.5 436.6 L525.9 437.6 L526.3 438.5 L526.7 439.5 L527.1 440.5 L527.5 441.5 L527.9 442.5 L528.2 443.5 L528.3 444.6 L528.0 445.8 L527.8 446.9 L528.1 447.9 L528.9 448.7 L529.9 449.6 L530.5 450.5 L530.9 451.4 L531.2 452.4 L531.5 453.4 L531.8 454.3 L532.0 455.3 L532.3 456.2 L532.5 457.1 L532.7 458.0 L532.9 458.8 L532.9 459.7 L532.8 460.6 L532.4 461.5 L532.0 462.4 L532.0 463.3 L532.6 464.2 L533.4 465.1 L534.1 466.0 L534.4 467.0 L534.7 467.9 L534.8 468.9 L535.0 469.9 L535.1 470.9 L535.3 471.9 L535.4 472.9 L535.5 473.9 L535.6 475.0 L535.7 476.0 L535.7 477.1 L535.7 478.1 L535.5 479.2 L534.9 480.2 L534.3 481.2 L534.3 482.3 L535.0 483.5 L535.6 484.7 L536.0 485.9 L536.1 487.0 L536.1 488.2 L536.1 489.3 L536.1 490.5 L536.1 491.7 L536.1 492.9 L536.1 494.1 L536.1 495.3 L535.9 496.5 L535.5 497.6 L534.7 498.6 L534.4 499.8 L535.2 501.3 L535.9 502.9 L536.1 504.3 L536.2 505.6 L536.2 506.9 L536.2 508.1 L536.2 509.3 L536.1 510.5 L536.1 511.6 L536.1 512.7 L536.0 513.8 L535.8 514.8 L535.4 515.6 L534.7 516.3 L534.3 517.2 L534.6 518.4 L535.2 519.9 L535.4 521.2 L535.4 522.4 L535.3 523.5 L535.1 524.7 L535.0 525.8 L534.8 526.9 L534.5 528.1 L534.3 529.2 L534.1 530.4 L533.8 531.6 L533.4 532.7 L532.6 533.5 L531.6 534.3 L531.2 535.4 L531.5 537.1 L531.7 538.8 L531.5 540.2 L531.2 541.5 L530.8 542.7 L530.4 543.9 L530.1 545.2 L529.7 546.4 L529.3 547.7 L528.8 548.9 L528.2 550.0 L527.3 550.7 L526.4 551.4 L526.2 552.7 L526.3 554.2 L526.3 555.6 L526.1 556.7 L525.9 557.6 L525.6 558.3 L525.4 559.1 L525.1 559.7 L524.8 560.4 L524.6 561.0 L524.3 561.6 L524.0 562.2 L523.6 562.8 L523.2 563.4 L522.9 564.0 L522.5 564.5 L522.1 565.1 L521.6 565.6 L521.2 566.1 L520.6 566.5 L520.0 566.9 L519.4 567.2 L518.6 567.5 L517.8 567.7 L517.0 568.0 L516.2 568.4 L515.6 569.0 L515.0 569.7 L514.5 570.6 L513.9 571.4 L513.4 572.2 L512.8 572.9 L512.2 573.6 L511.6 574.2 L511.0 574.7 L510.3 575.2 L509.7 575.7 L509.1 576.3 L508.5 576.8 L507.9 577.3 L507.3 577.9 L506.7 578.5 L506.1 579.1 L505.6 579.8 L505.0 580.6 L504.5 581.4 L503.9 582.1 L503.3 582.8 L502.6 583.2 L501.9 583.6 L501.2 584.0 L500.7 584.8 L500.3 585.8 L500.1 587.0 L499.8 588.1 L499.4 589.1 L499.0 589.9 L498.6 590.6 L498.1 591.3 L497.6 592.0 L497.0 592.7 L496.4 593.4 L495.8 594.1 L495.1 594.8 L494.3 595.4 L493.6 596.1 L492.7 596.6 L491.8 597.1 L490.8 597.4 L489.8 597.6 L488.7 598.0 L487.7 598.7 L486.7 599.7 L485.7 600.8 L484.5 602.0 L483.3 603.0 L481.9 603.8 L480.4 604.6 L479.0 605.3 L477.5 606.0 L476.0 606.7 L474.6 607.4 L473.3 607.9 L472.0 608.4 L470.7 608.8 L469.4 609.1 L468.2 609.3 L466.9 609.5 L465.7 609.7 L464.5 610.1 L463.4 610.6 L462.2 611.2 L461.0 612.0 L459.9 612.7 L458.7 613.3 L457.6 613.9 L456.4 614.4 L455.2 614.9 L454.0 615.3 L452.8 615.7 L451.6 616.1 L450.3 616.5 L449.1 616.9 L447.7 617.3 L446.4 617.7 L445.0 618.0 L443.6 618.2 L442.3 618.4 L440.8 620.0 L439.4 620.5 L438.0 621.1 L436.6 621.5 L435.2 622.0 L433.8 622.5 L432.3 622.9 L430.9 623.4 L429.4 623.9 L427.9 624.3 L426.5 624.7 L425.1 625.1 L423.8 625.5 L422.5 625.8 L421.3 626.0 L420.2 626.2 L419.2 626.4 L418.2 626.6 L417.2 626.7 L416.3 626.8 L415.4 626.8 L414.6 626.8 L413.8 626.8 L413.1 626.7 L412.4 626.6 L411.7 626.3 L411.1 626.0 L410.5 625.6 L409.9 625.1 L409.4 624.6 L408.9 624.1 L408.4 623.6 L408.1 623.2 L407.7 622.8 L407.4 622.6 L407.1 620.9 L407.2 618.8 L407.3 616.2 L407.4 613.5 L407.5 610.7 L407.5 608.0 L407.4 605.4 L407.3 602.8 L407.2 600.2 L407.0 597.5 L406.8 594.7 L406.5 592.0 L406.2 589.3 L405.7 586.7 L405.3 584.1 L404.8 581.3 L404.4 578.3 L404.0 575.0 L403.7 571.4 L403.4 567.4 L403.1 563.3 L402.8 559.0 L402.6 554.5 L402.5 550.0 L402.5 545.3 L402.5 540.4 L402.6 535.3 L402.7 530.2 L402.8 525.1 L403.0 520.0 L403.2 515.0 L403.4 510.0 L403.7 505.0 L404.0 500.0 L404.2 495.0 L404.5 490.0 L404.8 484.9 L405.0 479.8 L405.3 474.7 L405.5 469.6 L405.8 464.7 L406.0 460.0 L406.2 455.5 L406.4 451.1 L406.6 446.9 L406.8 442.8 L406.9 438.8 L407.0 435.0 L407.0 431.4 L407.0 428.0 L406.9 424.7 L406.8 421.5 L406.7 418.3 L406.5 415.0 L406.3 411.7 L406.1 408.5 L405.8 405.3 L405.5 402.0 L405.2 398.6 L405.0 395.0 L404.8 391.1 L404.6 387.0 L404.4 382.8 L404.3 378.5 L404.1 374.2 L404.0 370.0 L403.9 365.7 L403.8 361.3 L403.8 356.8 L403.7 352.5 L403.6 348.5 L403.5 345.0 L403.4 342.0 L403.2 339.3 L403.1 337.0 L402.9 334.9 L402.7 332.9 L402.5 331.0 L402.2 329.2 L401.8 327.4 L401.4 325.9 L401.1 324.5 L400.7 323.4Z"/></g>
</g>
</svg>
</body></html>
